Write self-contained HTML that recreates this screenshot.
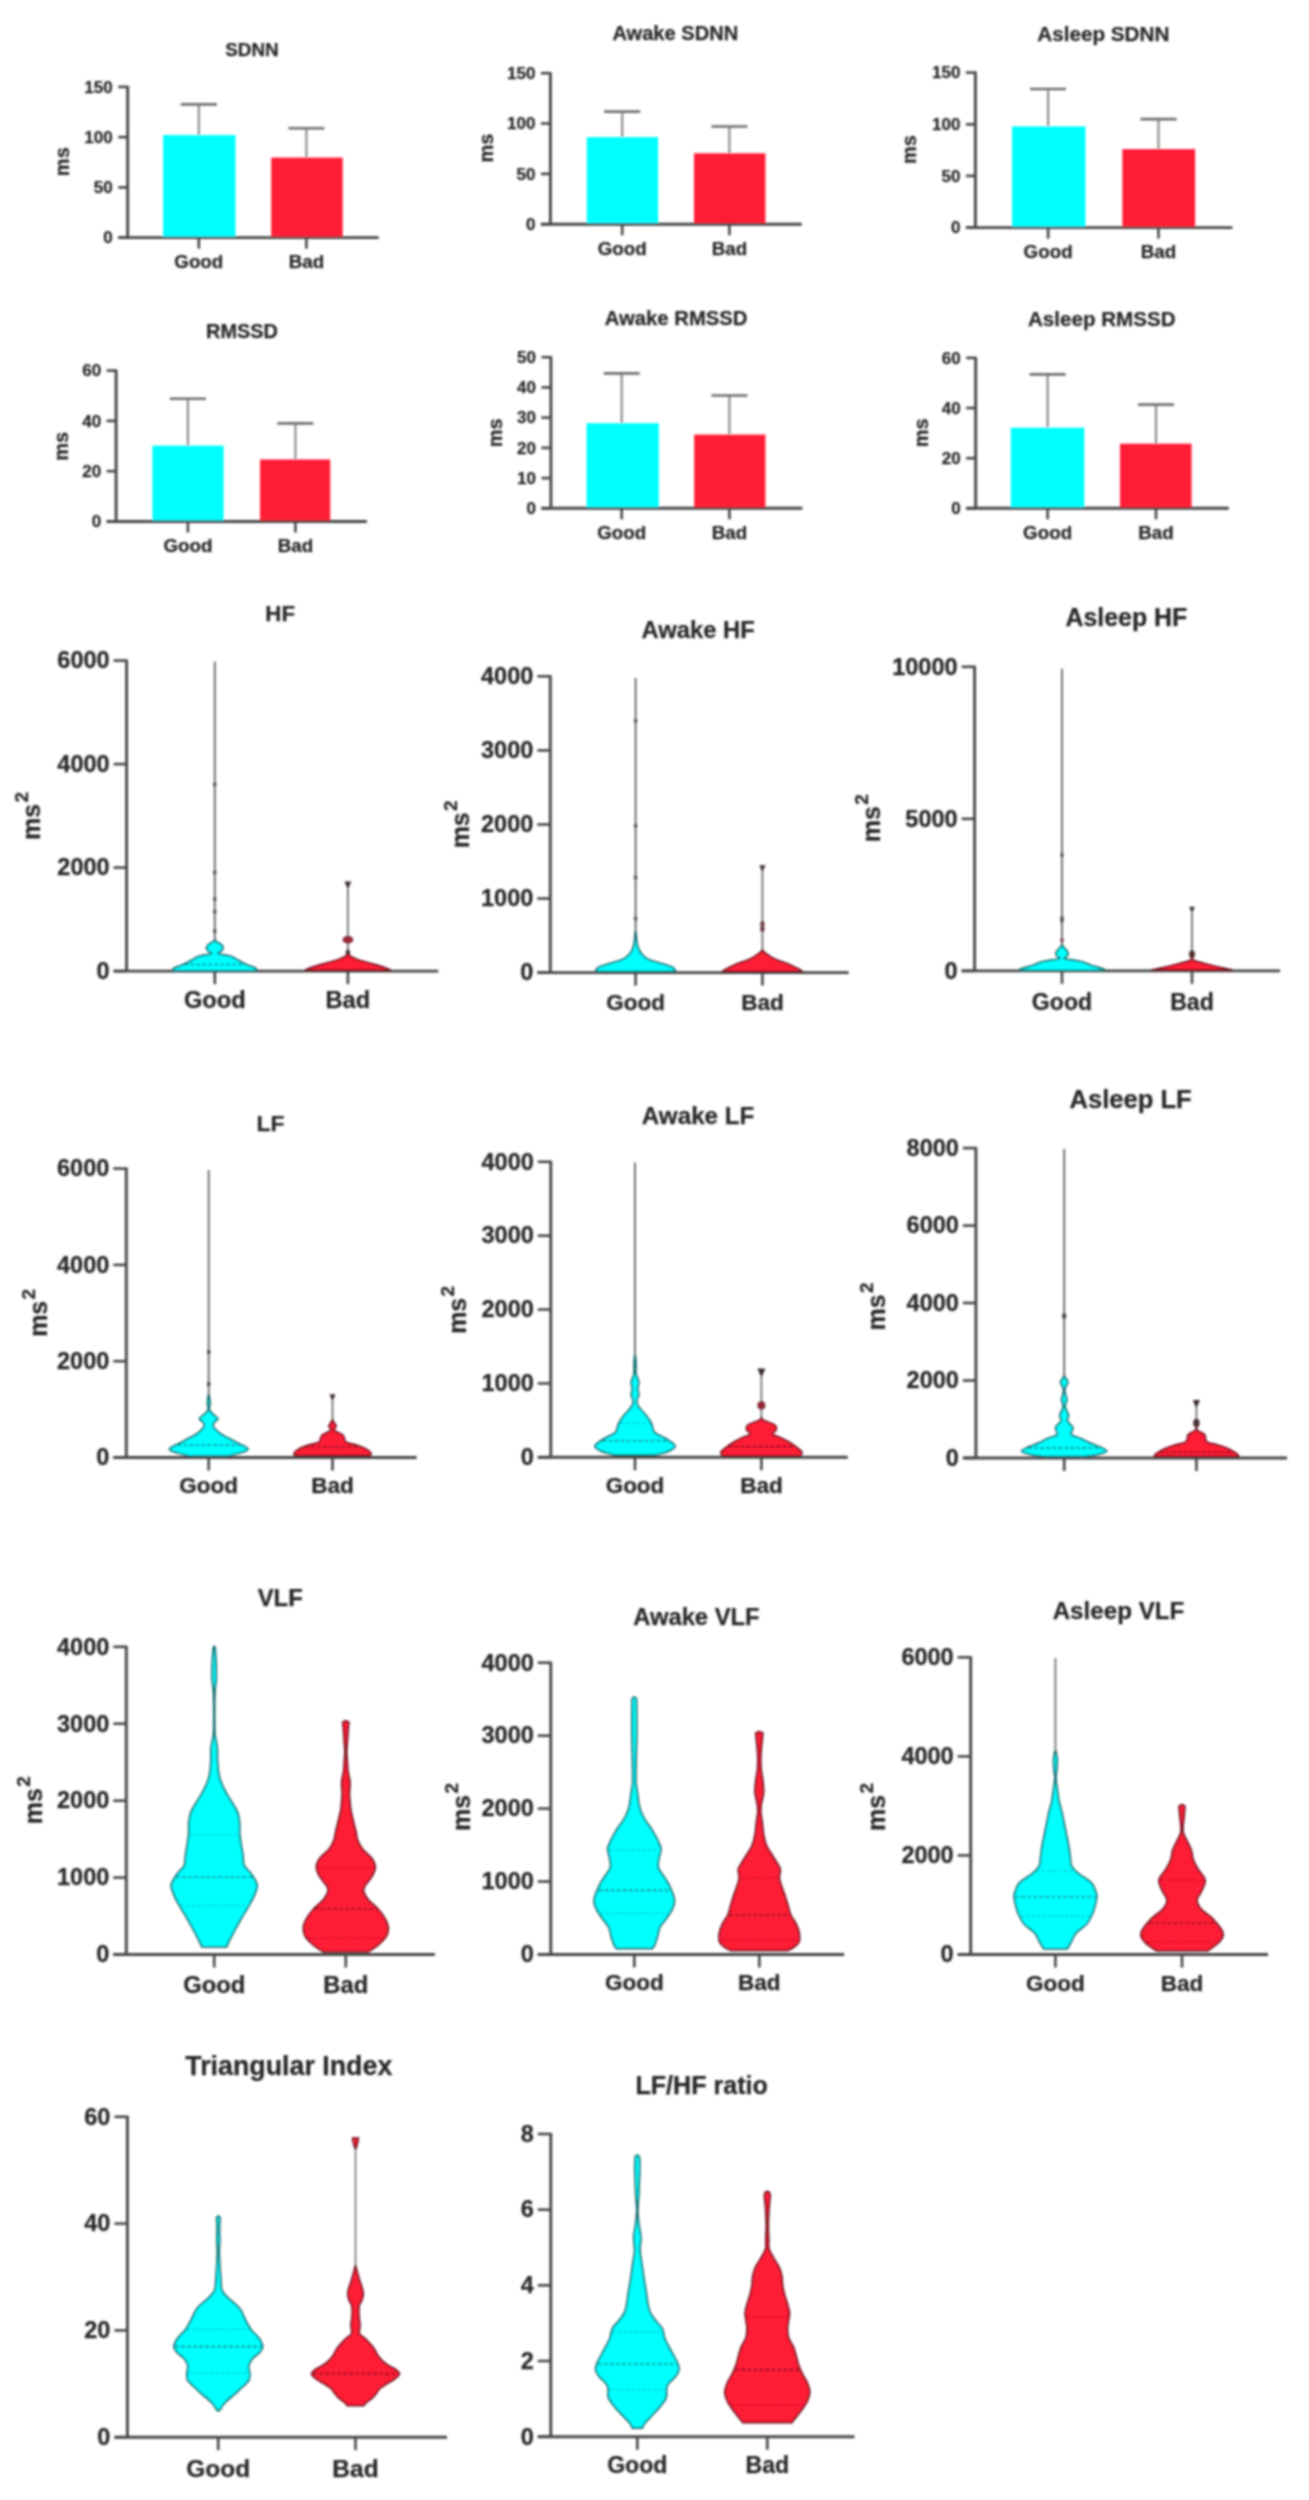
<!DOCTYPE html>
<html><head><meta charset="utf-8"><style>
html,body{margin:0;padding:0;background:#fff;}
body{width:1309px;height:2500px;overflow:hidden;}
svg{display:block;}
.t{font-family:"Liberation Sans",sans-serif;font-weight:bold;fill:#282828;stroke:#282828;stroke-width:0.25px;}
</style></head><body>
<svg width="1309" height="2500" viewBox="0 0 1309 2500">
<defs><filter id="bl" x="0" y="0" width="1309" height="2500" filterUnits="userSpaceOnUse"><feGaussianBlur stdDeviation="0.8"/></filter></defs>
<rect width="1309" height="2500" fill="#fff"/>
<g filter="url(#bl)">
<line x1="127.7" y1="85.9" x2="127.7" y2="237.6" stroke="#474747" stroke-width="2.9"/>
<line x1="118.2" y1="237.6" x2="378.8" y2="237.6" stroke="#474747" stroke-width="2.9"/>
<line x1="118.2" y1="237.6" x2="127.7" y2="237.6" stroke="#474747" stroke-width="2.61"/>
<text x="112.7" y="243.2" font-size="17" text-anchor="end" class="t">0</text>
<line x1="118.2" y1="187.4" x2="127.7" y2="187.4" stroke="#474747" stroke-width="2.61"/>
<text x="112.7" y="193" font-size="17" text-anchor="end" class="t">50</text>
<line x1="118.2" y1="137.1" x2="127.7" y2="137.1" stroke="#474747" stroke-width="2.61"/>
<text x="112.7" y="142.7" font-size="17" text-anchor="end" class="t">100</text>
<line x1="118.2" y1="86.9" x2="127.7" y2="86.9" stroke="#474747" stroke-width="2.61"/>
<text x="112.7" y="92.5" font-size="17" text-anchor="end" class="t">150</text>
<line x1="198.8" y1="237.6" x2="198.8" y2="248.6" stroke="#474747" stroke-width="2.61"/>
<line x1="306.4" y1="237.6" x2="306.4" y2="248.6" stroke="#474747" stroke-width="2.61"/>
<rect x="163.1" y="135.1" width="72.4" height="101.5" fill="#00ffff"/>
<rect x="271.2" y="157.6" width="71.5" height="79" fill="#ff1a36"/>
<line x1="198.8" y1="104.4" x2="198.8" y2="135.1" stroke="#8c8c8c" stroke-width="2.2"/>
<line x1="180.8" y1="104.4" x2="216.8" y2="104.4" stroke="#6e6e6e" stroke-width="2.6"/>
<line x1="306.4" y1="128.3" x2="306.4" y2="157.6" stroke="#8c8c8c" stroke-width="2.2"/>
<line x1="288.4" y1="128.3" x2="324.4" y2="128.3" stroke="#6e6e6e" stroke-width="2.6"/>
<text x="252" y="55.8" font-size="18.9" text-anchor="middle" class="t">SDNN</text>
<text transform="translate(63.3,161.7) rotate(-90)" x="0" y="5.2" font-size="20" text-anchor="middle" class="t">ms</text>
<text x="198.8" y="268" font-size="18.8" text-anchor="middle" class="t">Good</text>
<text x="306.4" y="268" font-size="18.8" text-anchor="middle" class="t">Bad</text>
<line x1="550.4" y1="72.2" x2="550.4" y2="224.2" stroke="#474747" stroke-width="2.9"/>
<line x1="540.9" y1="224.2" x2="801.8" y2="224.2" stroke="#474747" stroke-width="2.9"/>
<line x1="540.9" y1="224.2" x2="550.4" y2="224.2" stroke="#474747" stroke-width="2.61"/>
<text x="535.4" y="229.8" font-size="17" text-anchor="end" class="t">0</text>
<line x1="540.9" y1="173.9" x2="550.4" y2="173.9" stroke="#474747" stroke-width="2.61"/>
<text x="535.4" y="179.5" font-size="17" text-anchor="end" class="t">50</text>
<line x1="540.9" y1="123.5" x2="550.4" y2="123.5" stroke="#474747" stroke-width="2.61"/>
<text x="535.4" y="129.1" font-size="17" text-anchor="end" class="t">100</text>
<line x1="540.9" y1="73.2" x2="550.4" y2="73.2" stroke="#474747" stroke-width="2.61"/>
<text x="535.4" y="78.8" font-size="17" text-anchor="end" class="t">150</text>
<line x1="622.2" y1="224.2" x2="622.2" y2="235.2" stroke="#474747" stroke-width="2.61"/>
<line x1="729.4" y1="224.2" x2="729.4" y2="235.2" stroke="#474747" stroke-width="2.61"/>
<rect x="586.8" y="137.1" width="71.3" height="86.1" fill="#00ffff"/>
<rect x="694" y="153.3" width="71.4" height="69.9" fill="#ff1a36"/>
<line x1="622.2" y1="111.6" x2="622.2" y2="137.1" stroke="#8c8c8c" stroke-width="2.2"/>
<line x1="604.2" y1="111.6" x2="640.2" y2="111.6" stroke="#6e6e6e" stroke-width="2.6"/>
<line x1="729.4" y1="126.5" x2="729.4" y2="153.3" stroke="#8c8c8c" stroke-width="2.2"/>
<line x1="711.4" y1="126.5" x2="747.4" y2="126.5" stroke="#6e6e6e" stroke-width="2.6"/>
<text x="675.3" y="40" font-size="20.1" text-anchor="middle" class="t">Awake SDNN</text>
<text transform="translate(487.5,148) rotate(-90)" x="0" y="5.2" font-size="20" text-anchor="middle" class="t">ms</text>
<text x="622.2" y="254.5" font-size="18.8" text-anchor="middle" class="t">Good</text>
<text x="729.4" y="254.5" font-size="18.8" text-anchor="middle" class="t">Bad</text>
<line x1="975.4" y1="71.6" x2="975.4" y2="227.6" stroke="#474747" stroke-width="2.9"/>
<line x1="965.9" y1="227.6" x2="1232.4" y2="227.6" stroke="#474747" stroke-width="2.9"/>
<line x1="965.9" y1="227.6" x2="975.4" y2="227.6" stroke="#474747" stroke-width="2.61"/>
<text x="960.4" y="233.2" font-size="17" text-anchor="end" class="t">0</text>
<line x1="965.9" y1="175.9" x2="975.4" y2="175.9" stroke="#474747" stroke-width="2.61"/>
<text x="960.4" y="181.5" font-size="17" text-anchor="end" class="t">50</text>
<line x1="965.9" y1="124.3" x2="975.4" y2="124.3" stroke="#474747" stroke-width="2.61"/>
<text x="960.4" y="129.9" font-size="17" text-anchor="end" class="t">100</text>
<line x1="965.9" y1="72.6" x2="975.4" y2="72.6" stroke="#474747" stroke-width="2.61"/>
<text x="960.4" y="78.2" font-size="17" text-anchor="end" class="t">150</text>
<line x1="1048.1" y1="227.6" x2="1048.1" y2="238.6" stroke="#474747" stroke-width="2.61"/>
<line x1="1158.5" y1="227.6" x2="1158.5" y2="238.6" stroke="#474747" stroke-width="2.61"/>
<rect x="1012" y="126.4" width="73.4" height="100.2" fill="#00ffff"/>
<rect x="1122.4" y="149.1" width="72.7" height="77.5" fill="#ff1a36"/>
<line x1="1048.1" y1="89" x2="1048.1" y2="126.4" stroke="#8c8c8c" stroke-width="2.2"/>
<line x1="1030.1" y1="89" x2="1066.1" y2="89" stroke="#6e6e6e" stroke-width="2.6"/>
<line x1="1158.5" y1="119.1" x2="1158.5" y2="149.1" stroke="#8c8c8c" stroke-width="2.2"/>
<line x1="1140.5" y1="119.1" x2="1176.5" y2="119.1" stroke="#6e6e6e" stroke-width="2.6"/>
<text x="1103.3" y="40.5" font-size="20.7" text-anchor="middle" class="t">Asleep SDNN</text>
<text transform="translate(911,149.6) rotate(-90)" x="0" y="5.2" font-size="20" text-anchor="middle" class="t">ms</text>
<text x="1048.1" y="258.3" font-size="18.8" text-anchor="middle" class="t">Good</text>
<text x="1158.5" y="258.3" font-size="18.8" text-anchor="middle" class="t">Bad</text>
<line x1="116.1" y1="369.6" x2="116.1" y2="521.5" stroke="#474747" stroke-width="2.9"/>
<line x1="106.6" y1="521.5" x2="366.9" y2="521.5" stroke="#474747" stroke-width="2.9"/>
<line x1="106.6" y1="521.5" x2="116.1" y2="521.5" stroke="#474747" stroke-width="2.61"/>
<text x="101.1" y="527.1" font-size="17" text-anchor="end" class="t">0</text>
<line x1="106.6" y1="471.2" x2="116.1" y2="471.2" stroke="#474747" stroke-width="2.61"/>
<text x="101.1" y="476.8" font-size="17" text-anchor="end" class="t">20</text>
<line x1="106.6" y1="420.9" x2="116.1" y2="420.9" stroke="#474747" stroke-width="2.61"/>
<text x="101.1" y="426.5" font-size="17" text-anchor="end" class="t">40</text>
<line x1="106.6" y1="370.6" x2="116.1" y2="370.6" stroke="#474747" stroke-width="2.61"/>
<text x="101.1" y="376.2" font-size="17" text-anchor="end" class="t">60</text>
<line x1="187.9" y1="521.5" x2="187.9" y2="532.5" stroke="#474747" stroke-width="2.61"/>
<line x1="295.4" y1="521.5" x2="295.4" y2="532.5" stroke="#474747" stroke-width="2.61"/>
<rect x="152.4" y="445.6" width="71.2" height="74.9" fill="#00ffff"/>
<rect x="260" y="459.5" width="70.2" height="61" fill="#ff1a36"/>
<line x1="187.9" y1="398.8" x2="187.9" y2="445.6" stroke="#8c8c8c" stroke-width="2.2"/>
<line x1="169.9" y1="398.8" x2="205.9" y2="398.8" stroke="#6e6e6e" stroke-width="2.6"/>
<line x1="295.4" y1="423.4" x2="295.4" y2="459.5" stroke="#8c8c8c" stroke-width="2.2"/>
<line x1="277.4" y1="423.4" x2="313.4" y2="423.4" stroke="#6e6e6e" stroke-width="2.6"/>
<text x="242" y="338.2" font-size="19.9" text-anchor="middle" class="t">RMSSD</text>
<text transform="translate(63.2,446.3) rotate(-90)" x="0" y="5.2" font-size="20" text-anchor="middle" class="t">ms</text>
<text x="187.9" y="552.2" font-size="18.8" text-anchor="middle" class="t">Good</text>
<text x="295.4" y="552.2" font-size="18.8" text-anchor="middle" class="t">Bad</text>
<line x1="550.9" y1="356.2" x2="550.9" y2="508.3" stroke="#474747" stroke-width="2.9"/>
<line x1="541.4" y1="508.3" x2="802.4" y2="508.3" stroke="#474747" stroke-width="2.9"/>
<line x1="541.4" y1="508.3" x2="550.9" y2="508.3" stroke="#474747" stroke-width="2.61"/>
<text x="535.9" y="513.9" font-size="17" text-anchor="end" class="t">0</text>
<line x1="541.4" y1="478.1" x2="550.9" y2="478.1" stroke="#474747" stroke-width="2.61"/>
<text x="535.9" y="483.7" font-size="17" text-anchor="end" class="t">10</text>
<line x1="541.4" y1="447.9" x2="550.9" y2="447.9" stroke="#474747" stroke-width="2.61"/>
<text x="535.9" y="453.5" font-size="17" text-anchor="end" class="t">20</text>
<line x1="541.4" y1="417.6" x2="550.9" y2="417.6" stroke="#474747" stroke-width="2.61"/>
<text x="535.9" y="423.2" font-size="17" text-anchor="end" class="t">30</text>
<line x1="541.4" y1="387.4" x2="550.9" y2="387.4" stroke="#474747" stroke-width="2.61"/>
<text x="535.9" y="393" font-size="17" text-anchor="end" class="t">40</text>
<line x1="541.4" y1="357.2" x2="550.9" y2="357.2" stroke="#474747" stroke-width="2.61"/>
<text x="535.9" y="362.8" font-size="17" text-anchor="end" class="t">50</text>
<line x1="621.7" y1="508.3" x2="621.7" y2="519.3" stroke="#474747" stroke-width="2.61"/>
<line x1="729.4" y1="508.3" x2="729.4" y2="519.3" stroke="#474747" stroke-width="2.61"/>
<rect x="586.6" y="423.2" width="72.2" height="84.1" fill="#00ffff"/>
<rect x="694.2" y="434.6" width="71.2" height="72.7" fill="#ff1a36"/>
<line x1="621.7" y1="373.4" x2="621.7" y2="423.2" stroke="#8c8c8c" stroke-width="2.2"/>
<line x1="603.7" y1="373.4" x2="639.7" y2="373.4" stroke="#6e6e6e" stroke-width="2.6"/>
<line x1="729.4" y1="395.5" x2="729.4" y2="434.6" stroke="#8c8c8c" stroke-width="2.2"/>
<line x1="711.4" y1="395.5" x2="747.4" y2="395.5" stroke="#6e6e6e" stroke-width="2.6"/>
<text x="676.1" y="325" font-size="20.3" text-anchor="middle" class="t">Awake RMSSD</text>
<text transform="translate(497,432.9) rotate(-90)" x="0" y="5.2" font-size="20" text-anchor="middle" class="t">ms</text>
<text x="621.7" y="538.7" font-size="18.8" text-anchor="middle" class="t">Good</text>
<text x="729.4" y="538.7" font-size="18.8" text-anchor="middle" class="t">Bad</text>
<line x1="975.7" y1="356.9" x2="975.7" y2="508.3" stroke="#474747" stroke-width="2.9"/>
<line x1="966.2" y1="508.3" x2="1228.8" y2="508.3" stroke="#474747" stroke-width="2.9"/>
<line x1="966.2" y1="508.3" x2="975.7" y2="508.3" stroke="#474747" stroke-width="2.61"/>
<text x="960.7" y="513.9" font-size="17" text-anchor="end" class="t">0</text>
<line x1="966.2" y1="458.2" x2="975.7" y2="458.2" stroke="#474747" stroke-width="2.61"/>
<text x="960.7" y="463.8" font-size="17" text-anchor="end" class="t">20</text>
<line x1="966.2" y1="408" x2="975.7" y2="408" stroke="#474747" stroke-width="2.61"/>
<text x="960.7" y="413.6" font-size="17" text-anchor="end" class="t">40</text>
<line x1="966.2" y1="357.9" x2="975.7" y2="357.9" stroke="#474747" stroke-width="2.61"/>
<text x="960.7" y="363.5" font-size="17" text-anchor="end" class="t">60</text>
<line x1="1047.6" y1="508.3" x2="1047.6" y2="519.3" stroke="#474747" stroke-width="2.61"/>
<line x1="1156" y1="508.3" x2="1156" y2="519.3" stroke="#474747" stroke-width="2.61"/>
<rect x="1010.8" y="427.7" width="73.5" height="79.6" fill="#00ffff"/>
<rect x="1120" y="443.7" width="71.5" height="63.6" fill="#ff1a36"/>
<line x1="1047.6" y1="374.4" x2="1047.6" y2="427.7" stroke="#8c8c8c" stroke-width="2.2"/>
<line x1="1029.6" y1="374.4" x2="1065.6" y2="374.4" stroke="#6e6e6e" stroke-width="2.6"/>
<line x1="1156" y1="404.6" x2="1156" y2="443.7" stroke="#8c8c8c" stroke-width="2.2"/>
<line x1="1138" y1="404.6" x2="1174" y2="404.6" stroke="#6e6e6e" stroke-width="2.6"/>
<text x="1101.8" y="326" font-size="20.6" text-anchor="middle" class="t">Asleep RMSSD</text>
<text transform="translate(922.8,432.9) rotate(-90)" x="0" y="5.2" font-size="20" text-anchor="middle" class="t">ms</text>
<text x="1047.6" y="538.8" font-size="18.8" text-anchor="middle" class="t">Good</text>
<text x="1156" y="538.8" font-size="18.8" text-anchor="middle" class="t">Bad</text>
<line x1="126.6" y1="659.6" x2="126.6" y2="971.1" stroke="#474747" stroke-width="2.9"/>
<line x1="113.6" y1="971.1" x2="438.3" y2="971.1" stroke="#474747" stroke-width="2.9"/>
<line x1="113.6" y1="971.1" x2="126.6" y2="971.1" stroke="#474747" stroke-width="2.61"/>
<text x="109.6" y="978.9" font-size="23.5" text-anchor="end" class="t">0</text>
<line x1="113.6" y1="867.6" x2="126.6" y2="867.6" stroke="#474747" stroke-width="2.61"/>
<text x="109.6" y="875.4" font-size="23.5" text-anchor="end" class="t">2000</text>
<line x1="113.6" y1="764.1" x2="126.6" y2="764.1" stroke="#474747" stroke-width="2.61"/>
<text x="109.6" y="771.9" font-size="23.5" text-anchor="end" class="t">4000</text>
<line x1="113.6" y1="660.6" x2="126.6" y2="660.6" stroke="#474747" stroke-width="2.61"/>
<text x="109.6" y="668.4" font-size="23.5" text-anchor="end" class="t">6000</text>
<line x1="214.8" y1="971.1" x2="214.8" y2="984.1" stroke="#474747" stroke-width="2.61"/>
<line x1="347.9" y1="971.1" x2="347.9" y2="984.1" stroke="#474747" stroke-width="2.61"/>
<text x="280.2" y="620.6" font-size="22.3" text-anchor="middle" class="t">HF</text>
<text transform="translate(33.5,821.9) rotate(-90)" x="0" y="6.5" font-size="25" text-anchor="middle" class="t">ms</text>
<text transform="translate(33.5,821.9) rotate(-90)" x="19.4" y="-5.5" font-size="19" text-anchor="start" class="t">2</text>
<text x="214.8" y="1008.4" font-size="23.7" text-anchor="middle" class="t">Good</text>
<text x="347.9" y="1008.4" font-size="23.7" text-anchor="middle" class="t">Bad</text>
<line x1="214.8" y1="661.5" x2="214.8" y2="945" stroke="#606060" stroke-width="1.8"/>
<ellipse cx="214.8" cy="784.5" rx="1.7" ry="2.2" fill="#4a4a4a"/>
<ellipse cx="214.8" cy="872.5" rx="1.7" ry="2.2" fill="#4a4a4a"/>
<ellipse cx="214.8" cy="899" rx="1.7" ry="2.2" fill="#4a4a4a"/>
<ellipse cx="214.8" cy="911.8" rx="1.7" ry="2.2" fill="#4a4a4a"/>
<ellipse cx="214.8" cy="931" rx="1.7" ry="2.2" fill="#4a4a4a"/>
<path d="M214.8,939.5 L215.2,941 C215.7,941.2 216.7,941.7 217.8,942.4 C218.9,943.1 220.9,944 221.8,945 C222.7,946 223.2,947.4 223,948.5 C222.8,949.6 221.6,950.6 220.8,951.5 C220,952.4 216.7,953 218.3,953.8 C219.9,954.5 227.3,955.1 230.2,956 C233.1,956.9 233.9,958 235.8,959 C237.7,960 239.5,961.1 241.7,962.2 C243.9,963.3 246.5,964.5 248.8,965.5 C251.2,966.5 254.5,967.4 255.8,968.3 C257.1,969.2 256.6,970.4 256.8,970.8 L172.8,970.8 C173,970.4 172.5,969.2 173.8,968.3 C175.1,967.4 178.5,966.5 180.8,965.5 C183.2,964.5 185.7,963.3 187.9,962.2 C190.1,961.1 191.9,960 193.8,959 C195.7,958 196.5,956.9 199.4,956 C202.3,955.1 209.7,954.5 211.3,953.8 C212.9,953 209.6,952.4 208.8,951.5 C208,950.6 206.8,949.6 206.6,948.5 C206.4,947.4 206.9,946 207.8,945 C208.7,944 210.7,943.1 211.8,942.4 C212.9,941.7 213.9,941.2 214.4,941 Z" fill="#00ffff" stroke="#156a6c" stroke-width="1.7" stroke-linejoin="round"/>
<line x1="184.5" y1="964.5" x2="245.1" y2="964.5" stroke="#156a6c" stroke-width="1.6" stroke-dasharray="3.5 2.5" opacity="0.9"/>
<line x1="347.9" y1="884" x2="347.9" y2="957" stroke="#707070" stroke-width="1.8"/>
<path d="M344.5,881.4 L351.3,881.4 L348.7,887.5 L347.1,887.5 Z" fill="#3a2a2e"/>
<ellipse cx="347.9" cy="939.7" rx="4.8" ry="3.2" fill="#a02838" stroke="#5a2028" stroke-width="1"/>
<ellipse cx="347.9" cy="952.4" rx="2.2" ry="2.9" fill="#4a3035"/>
<path d="M347.9,953.5 L348.3,955 C349.1,955.4 350.7,956.4 352.8,957.4 C354.9,958.4 357.8,959.7 361.2,960.8 C364.6,961.9 369.5,963 373.4,964.1 C377.3,965.2 381.8,966.5 384.7,967.5 C387.6,968.5 389.9,969.9 391,970.4 L304.8,970.4 C305.8,969.9 308.2,968.5 311.1,967.5 C314,966.5 318.5,965.2 322.4,964.1 C326.3,963 331.2,961.9 334.6,960.8 C338,959.7 340.9,958.4 343,957.4 C345.1,956.4 346.7,955.4 347.4,955 Z" fill="#ff1a36" stroke="#6e1420" stroke-width="1.7" stroke-linejoin="round"/>
<line x1="550.3" y1="675.3" x2="550.3" y2="972.6" stroke="#474747" stroke-width="2.9"/>
<line x1="537.3" y1="972.6" x2="848.7" y2="972.6" stroke="#474747" stroke-width="2.9"/>
<line x1="537.3" y1="972.6" x2="550.3" y2="972.6" stroke="#474747" stroke-width="2.61"/>
<text x="533.3" y="980.4" font-size="23.5" text-anchor="end" class="t">0</text>
<line x1="537.3" y1="898.5" x2="550.3" y2="898.5" stroke="#474747" stroke-width="2.61"/>
<text x="533.3" y="906.3" font-size="23.5" text-anchor="end" class="t">1000</text>
<line x1="537.3" y1="824.5" x2="550.3" y2="824.5" stroke="#474747" stroke-width="2.61"/>
<text x="533.3" y="832.2" font-size="23.5" text-anchor="end" class="t">2000</text>
<line x1="537.3" y1="750.4" x2="550.3" y2="750.4" stroke="#474747" stroke-width="2.61"/>
<text x="533.3" y="758.1" font-size="23.5" text-anchor="end" class="t">3000</text>
<line x1="537.3" y1="676.3" x2="550.3" y2="676.3" stroke="#474747" stroke-width="2.61"/>
<text x="533.3" y="684.1" font-size="23.5" text-anchor="end" class="t">4000</text>
<line x1="635.6" y1="972.6" x2="635.6" y2="985.6" stroke="#474747" stroke-width="2.61"/>
<line x1="762.4" y1="972.6" x2="762.4" y2="985.6" stroke="#474747" stroke-width="2.61"/>
<text x="698.1" y="638.4" font-size="23.8" text-anchor="middle" class="t">Awake HF</text>
<text transform="translate(462.2,830.3) rotate(-90)" x="0" y="6.5" font-size="25" text-anchor="middle" class="t">ms</text>
<text transform="translate(462.2,830.3) rotate(-90)" x="19.4" y="-5.5" font-size="19" text-anchor="start" class="t">2</text>
<text x="635.6" y="1010.4" font-size="22.5" text-anchor="middle" class="t">Good</text>
<text x="762.4" y="1010.4" font-size="22.5" text-anchor="middle" class="t">Bad</text>
<line x1="635.6" y1="678" x2="635.6" y2="935" stroke="#606060" stroke-width="1.8"/>
<ellipse cx="635.6" cy="721" rx="1.7" ry="2.2" fill="#4a4a4a"/>
<ellipse cx="635.6" cy="825.8" rx="1.7" ry="2.2" fill="#4a4a4a"/>
<ellipse cx="635.6" cy="877.4" rx="1.7" ry="2.2" fill="#4a4a4a"/>
<ellipse cx="635.6" cy="918.6" rx="1.7" ry="2.2" fill="#4a4a4a"/>
<path d="M635.6,931.5 L636.1,933 C636.1,934.2 636.3,937.8 636.6,940 C636.9,942.2 637.1,944.2 637.6,946 C638.1,947.8 638.8,949.5 639.6,951 C640.4,952.5 641.3,953.7 642.6,955 C643.9,956.3 645.3,957.8 647.6,959 C649.9,960.2 653.4,961 656.6,962 C659.8,963 663.8,964 666.6,965 C669.4,966 672.1,966.9 673.6,968 C675.1,969.1 675.3,970.9 675.6,971.5 L595.6,971.5 C595.9,970.9 596.1,969.1 597.6,968 C599.1,966.9 601.8,966 604.6,965 C607.4,964 611.4,963 614.6,962 C617.8,961 621.3,960.2 623.6,959 C625.9,957.8 627.3,956.3 628.6,955 C629.9,953.7 630.8,952.5 631.6,951 C632.4,949.5 633.1,947.8 633.6,946 C634.1,944.2 634.3,942.2 634.6,940 C634.9,937.8 635.1,934.2 635.1,933 Z" fill="#00ffff" stroke="#156a6c" stroke-width="1.7" stroke-linejoin="round"/>
<line x1="762.4" y1="867" x2="762.4" y2="952" stroke="#707070" stroke-width="1.8"/>
<path d="M759.4,865.2 L765.4,865.2 L763.2,870.6 L761.6,870.6 Z" fill="#3a2a2e"/>
<ellipse cx="762.4" cy="924" rx="2.2" ry="2.9" fill="#6a3a40"/>
<ellipse cx="762.4" cy="929" rx="2.2" ry="2.9" fill="#6a3a40"/>
<path d="M762.4,949.5 L762.9,951 C763.3,951.3 763.5,951.7 765.4,953 C767.3,954.3 770.3,956.8 774.2,958.7 C778.1,960.6 784.6,962.4 788.9,964.2 C793.2,966 797.6,968.5 799.9,969.7 C802.1,970.9 802,971.2 802.4,971.5 L722.4,971.5 C722.8,971.2 722.6,970.9 724.9,969.7 C727.1,968.5 731.6,966 735.9,964.2 C740.2,962.4 746.7,960.6 750.6,958.7 C754.5,956.8 757.5,954.3 759.4,953 C761.3,951.7 761.5,951.3 761.9,951 Z" fill="#ff1a36" stroke="#6e1420" stroke-width="1.7" stroke-linejoin="round"/>
<line x1="974.6" y1="665.8" x2="974.6" y2="970.9" stroke="#474747" stroke-width="2.9"/>
<line x1="961.6" y1="970.9" x2="1280.1" y2="970.9" stroke="#474747" stroke-width="2.9"/>
<line x1="961.6" y1="970.9" x2="974.6" y2="970.9" stroke="#474747" stroke-width="2.61"/>
<text x="957.6" y="978.7" font-size="23.5" text-anchor="end" class="t">0</text>
<line x1="961.6" y1="818.8" x2="974.6" y2="818.8" stroke="#474747" stroke-width="2.61"/>
<text x="957.6" y="826.6" font-size="23.5" text-anchor="end" class="t">5000</text>
<line x1="961.6" y1="666.8" x2="974.6" y2="666.8" stroke="#474747" stroke-width="2.61"/>
<text x="957.6" y="674.6" font-size="23.5" text-anchor="end" class="t">10000</text>
<line x1="1062" y1="970.9" x2="1062" y2="983.9" stroke="#474747" stroke-width="2.61"/>
<line x1="1192" y1="970.9" x2="1192" y2="983.9" stroke="#474747" stroke-width="2.61"/>
<text x="1126.4" y="626.4" font-size="24.9" text-anchor="middle" class="t">Asleep HF</text>
<text transform="translate(873,824.1) rotate(-90)" x="0" y="6.5" font-size="25" text-anchor="middle" class="t">ms</text>
<text transform="translate(873,824.1) rotate(-90)" x="19.4" y="-5.5" font-size="19" text-anchor="start" class="t">2</text>
<text x="1062" y="1009.5" font-size="23.1" text-anchor="middle" class="t">Good</text>
<text x="1192" y="1009.5" font-size="23.1" text-anchor="middle" class="t">Bad</text>
<line x1="1062" y1="668.7" x2="1062" y2="948" stroke="#606060" stroke-width="1.8"/>
<ellipse cx="1062" cy="855" rx="1.7" ry="2.2" fill="#4a4a4a"/>
<ellipse cx="1062" cy="919.3" rx="1.8" ry="3.6" fill="#4a4a4a"/>
<ellipse cx="1062" cy="940.4" rx="1.8" ry="2.3" fill="#7a4a50"/>
<path d="M1062,944.5 L1062.5,946 C1062.9,946.5 1064,947.5 1065,948.7 C1066,949.9 1068.1,951.9 1068.3,953.3 C1068.5,954.7 1066.5,956.1 1066,957 C1065.5,957.9 1062.5,958 1065,958.8 C1067.5,959.5 1076.7,960.4 1081,961.5 C1085.3,962.6 1087.3,964 1091,965.2 C1094.7,966.4 1100.8,967.9 1103,968.8 C1105.2,969.7 1103.8,970.2 1104,970.5 L1020,970.5 C1020.2,970.2 1018.8,969.7 1021,968.8 C1023.2,967.9 1029.3,966.4 1033,965.2 C1036.7,964 1038.7,962.6 1043,961.5 C1047.3,960.4 1056.5,959.5 1059,958.8 C1061.5,958 1058.5,957.9 1058,957 C1057.5,956.1 1055.5,954.7 1055.7,953.3 C1055.9,951.9 1058,949.9 1059,948.7 C1060,947.5 1061.1,946.5 1061.5,946 Z" fill="#00ffff" stroke="#156a6c" stroke-width="1.7" stroke-linejoin="round"/>
<line x1="1192" y1="908.3" x2="1192" y2="961" stroke="#707070" stroke-width="1.8"/>
<path d="M1189.3,906.7 L1194.7,906.7 L1192.8,911.5 L1191.2,911.5 Z" fill="#3a2a2e"/>
<ellipse cx="1192" cy="954.2" rx="3" ry="3.9" fill="#4a3035"/>
<path d="M1192,957.5 L1192.5,959 C1192.7,959.3 1192.1,959.9 1194,960.6 C1195.9,961.3 1199.7,962.2 1203.8,963.3 C1207.9,964.4 1213.8,965.9 1218.5,967 C1223.2,968.1 1230,969.6 1232.3,970.1 L1151.7,970.1 C1154,969.6 1160.8,968.1 1165.5,967 C1170.2,965.9 1176.1,964.4 1180.2,963.3 C1184.3,962.2 1188.1,961.3 1190,960.6 C1191.9,959.9 1191.3,959.3 1191.5,959 Z" fill="#ff1a36" stroke="#6e1420" stroke-width="1.7" stroke-linejoin="round"/>
<line x1="126.3" y1="1167.6" x2="126.3" y2="1457.5" stroke="#474747" stroke-width="2.9"/>
<line x1="113.3" y1="1457.5" x2="416.6" y2="1457.5" stroke="#474747" stroke-width="2.9"/>
<line x1="113.3" y1="1457.5" x2="126.3" y2="1457.5" stroke="#474747" stroke-width="2.61"/>
<text x="109.3" y="1465.3" font-size="23.5" text-anchor="end" class="t">0</text>
<line x1="113.3" y1="1361.2" x2="126.3" y2="1361.2" stroke="#474747" stroke-width="2.61"/>
<text x="109.3" y="1369" font-size="23.5" text-anchor="end" class="t">2000</text>
<line x1="113.3" y1="1264.9" x2="126.3" y2="1264.9" stroke="#474747" stroke-width="2.61"/>
<text x="109.3" y="1272.7" font-size="23.5" text-anchor="end" class="t">4000</text>
<line x1="113.3" y1="1168.6" x2="126.3" y2="1168.6" stroke="#474747" stroke-width="2.61"/>
<text x="109.3" y="1176.4" font-size="23.5" text-anchor="end" class="t">6000</text>
<line x1="208.7" y1="1457.5" x2="208.7" y2="1470.5" stroke="#474747" stroke-width="2.61"/>
<line x1="332.5" y1="1457.5" x2="332.5" y2="1470.5" stroke="#474747" stroke-width="2.61"/>
<text x="270.5" y="1130.9" font-size="22.9" text-anchor="middle" class="t">LF</text>
<text transform="translate(40.2,1318.8) rotate(-90)" x="0" y="6.5" font-size="25" text-anchor="middle" class="t">ms</text>
<text transform="translate(40.2,1318.8) rotate(-90)" x="19.4" y="-5.5" font-size="19" text-anchor="start" class="t">2</text>
<text x="208.7" y="1492.5" font-size="22.5" text-anchor="middle" class="t">Good</text>
<text x="332.5" y="1492.5" font-size="22.5" text-anchor="middle" class="t">Bad</text>
<line x1="208.7" y1="1170" x2="208.7" y2="1400" stroke="#606060" stroke-width="1.8"/>
<ellipse cx="208.7" cy="1352" rx="1.8" ry="2.3" fill="#4a4a4a"/>
<ellipse cx="208.7" cy="1384.1" rx="1.8" ry="2.3" fill="#4a4a4a"/>
<path d="M208.7,1394.5 L209.1,1396 C209.3,1396.9 209.9,1399.8 210,1401.5 C210.1,1403.2 209.8,1404.6 209.7,1406 C209.6,1407.4 208.6,1408.3 209.2,1409.7 C209.8,1411.1 211.7,1412.8 213.2,1414.3 C214.7,1415.8 217.7,1417.3 218,1418.5 C218.3,1419.7 215.8,1420.6 215,1421.7 C214.2,1422.8 212.7,1423.8 213,1425.3 C213.3,1426.8 215.2,1429.1 216.9,1430.8 C218.6,1432.5 220.8,1433.9 223.3,1435.4 C225.8,1436.9 229.1,1438.5 232,1440 C234.9,1441.5 238,1443.1 240.7,1444.6 C243.4,1446.1 248,1447.8 248,1449.2 C248,1450.6 244,1451.7 240.7,1452.8 C237.4,1453.9 230.4,1455.5 228.3,1456 L189.1,1456 C187,1455.5 180,1453.9 176.7,1452.8 C173.4,1451.7 169.4,1450.6 169.4,1449.2 C169.4,1447.8 174,1446.1 176.7,1444.6 C179.4,1443.1 182.5,1441.5 185.4,1440 C188.3,1438.5 191.6,1436.9 194.1,1435.4 C196.6,1433.9 198.8,1432.5 200.5,1430.8 C202.2,1429.1 204.1,1426.8 204.4,1425.3 C204.7,1423.8 203.2,1422.8 202.4,1421.7 C201.6,1420.6 199.1,1419.7 199.4,1418.5 C199.7,1417.3 202.7,1415.8 204.2,1414.3 C205.7,1412.8 207.6,1411.1 208.2,1409.7 C208.8,1408.3 207.8,1407.4 207.7,1406 C207.6,1404.6 207.3,1403.2 207.4,1401.5 C207.5,1399.8 208.1,1396.9 208.2,1396 Z" fill="#00ffff" stroke="#156a6c" stroke-width="1.7" stroke-linejoin="round"/>
<line x1="177.6" y1="1445" x2="239.8" y2="1445" stroke="#156a6c" stroke-width="1.6" stroke-dasharray="3.5 2.5" opacity="0.9"/>
<line x1="332.5" y1="1396" x2="332.5" y2="1423" stroke="#707070" stroke-width="1.8"/>
<path d="M329.6,1394.3 L335.4,1394.3 L333.3,1399.5 L331.7,1399.5 Z" fill="#3a2a2e"/>
<path d="M332.5,1419.5 L332.9,1421 C333.1,1421.2 333.1,1421.1 333.6,1422 C334.1,1422.9 336,1424.8 336.1,1426.2 C336.2,1427.6 333.3,1429 334.4,1430.4 C335.4,1431.8 340.7,1433.2 342.4,1434.6 C344.1,1436 343.9,1437.5 344.5,1438.8 C345.1,1440.1 343.9,1441.1 346.2,1442.2 C348.4,1443.3 354.5,1444.2 358,1445.5 C361.5,1446.8 365,1448.4 367.2,1449.7 C369.4,1451 370.5,1452.1 371,1453.1 C371.5,1454.1 370.3,1455.2 370.2,1455.6 L294.8,1455.6 C294.7,1455.2 293.5,1454.1 294,1453.1 C294.5,1452.1 295.6,1451 297.8,1449.7 C300,1448.4 303.5,1446.8 307,1445.5 C310.5,1444.2 316.6,1443.3 318.8,1442.2 C321.1,1441.1 319.9,1440.1 320.5,1438.8 C321.1,1437.5 320.9,1436 322.6,1434.6 C324.3,1433.2 329.6,1431.8 330.6,1430.4 C331.7,1429 328.8,1427.6 328.9,1426.2 C329,1424.8 330.9,1422.9 331.4,1422 C331.9,1421.1 331.9,1421.2 332.1,1421 Z" fill="#ff1a36" stroke="#6e1420" stroke-width="1.7" stroke-linejoin="round"/>
<line x1="305.2" y1="1447" x2="359.8" y2="1447" stroke="#6e1420" stroke-width="1.6" stroke-dasharray="3.5 2.5" opacity="0.9"/>
<line x1="550.8" y1="1160.8" x2="550.8" y2="1457.3" stroke="#474747" stroke-width="2.9"/>
<line x1="537.8" y1="1457.3" x2="847.7" y2="1457.3" stroke="#474747" stroke-width="2.9"/>
<line x1="537.8" y1="1457.3" x2="550.8" y2="1457.3" stroke="#474747" stroke-width="2.61"/>
<text x="533.8" y="1465.1" font-size="23.5" text-anchor="end" class="t">0</text>
<line x1="537.8" y1="1383.4" x2="550.8" y2="1383.4" stroke="#474747" stroke-width="2.61"/>
<text x="533.8" y="1391.2" font-size="23.5" text-anchor="end" class="t">1000</text>
<line x1="537.8" y1="1309.5" x2="550.8" y2="1309.5" stroke="#474747" stroke-width="2.61"/>
<text x="533.8" y="1317.3" font-size="23.5" text-anchor="end" class="t">2000</text>
<line x1="537.8" y1="1235.7" x2="550.8" y2="1235.7" stroke="#474747" stroke-width="2.61"/>
<text x="533.8" y="1243.4" font-size="23.5" text-anchor="end" class="t">3000</text>
<line x1="537.8" y1="1161.8" x2="550.8" y2="1161.8" stroke="#474747" stroke-width="2.61"/>
<text x="533.8" y="1169.6" font-size="23.5" text-anchor="end" class="t">4000</text>
<line x1="635" y1="1457.3" x2="635" y2="1470.3" stroke="#474747" stroke-width="2.61"/>
<line x1="761.4" y1="1457.3" x2="761.4" y2="1470.3" stroke="#474747" stroke-width="2.61"/>
<text x="698.1" y="1124" font-size="24.2" text-anchor="middle" class="t">Awake LF</text>
<text transform="translate(459.8,1315.8) rotate(-90)" x="0" y="6.5" font-size="25" text-anchor="middle" class="t">ms</text>
<text transform="translate(459.8,1315.8) rotate(-90)" x="19.4" y="-5.5" font-size="19" text-anchor="start" class="t">2</text>
<text x="635" y="1492.5" font-size="22.5" text-anchor="middle" class="t">Good</text>
<text x="761.4" y="1492.5" font-size="22.5" text-anchor="middle" class="t">Bad</text>
<line x1="635" y1="1162.5" x2="635" y2="1360" stroke="#606060" stroke-width="1.8"/>
<path d="M635,1355.3 L635.5,1356.8 C635.6,1358.2 635.9,1362.2 636,1365 C636.1,1367.8 635.5,1370.8 636,1373.6 C636.5,1376.4 638.5,1379.5 638.8,1382 C639.1,1384.5 637.6,1386.6 637.6,1388.7 C637.6,1390.8 638.9,1392.5 638.8,1394.6 C638.6,1396.7 636.7,1399.2 636.7,1401.3 C636.7,1403.4 637.4,1404.8 639,1407.2 C640.6,1409.6 644.1,1412.8 646.2,1415.6 C648.3,1418.4 650.2,1421.2 651.6,1424 C653,1426.8 652.1,1429.9 654.6,1432.4 C657.1,1434.9 663.4,1437 666.8,1439.2 C670.2,1441.5 674.8,1444 675.2,1445.9 C675.6,1447.9 672.5,1449.4 669.3,1450.9 C666.1,1452.4 658,1454.4 655.8,1455.1 L614.2,1455.1 C612,1454.4 603.9,1452.4 600.7,1450.9 C597.5,1449.4 594.4,1447.9 594.8,1445.9 C595.2,1444 599.8,1441.5 603.2,1439.2 C606.6,1437 612.9,1434.9 615.4,1432.4 C617.9,1429.9 617,1426.8 618.4,1424 C619.8,1421.2 621.7,1418.4 623.8,1415.6 C625.9,1412.8 629.4,1409.6 631,1407.2 C632.6,1404.8 633.3,1403.4 633.3,1401.3 C633.3,1399.2 631.4,1396.7 631.2,1394.6 C631.1,1392.5 632.4,1390.8 632.4,1388.7 C632.4,1386.6 630.9,1384.5 631.2,1382 C631.5,1379.5 633.5,1376.4 634,1373.6 C634.5,1370.8 633.9,1367.8 634,1365 C634.1,1362.2 634.4,1358.2 634.5,1356.8 Z" fill="#00ffff" stroke="#156a6c" stroke-width="1.7" stroke-linejoin="round"/>
<line x1="620.4" y1="1423.2" x2="649.6" y2="1423.2" stroke="#156a6c" stroke-width="1.1" stroke-dasharray="3 2.5" opacity="0.45"/>
<line x1="602.7" y1="1440.8" x2="667.3" y2="1440.8" stroke="#156a6c" stroke-width="1.6" stroke-dasharray="3.5 2.5" opacity="0.9"/>
<line x1="761.4" y1="1371" x2="761.4" y2="1421" stroke="#707070" stroke-width="1.8"/>
<path d="M757.4,1368.5 L765.4,1368.5 L762.2,1375.7 L760.6,1375.7 Z" fill="#3a2a2e"/>
<ellipse cx="761.4" cy="1405.4" rx="3.6" ry="3.8" fill="#a02838" stroke="#5a2028" stroke-width="1"/>
<path d="M761.4,1417.5 L761.9,1419 C762.2,1419.2 762.8,1419.8 764.2,1420.5 C765.6,1421.2 768.5,1422.2 770.4,1423 C772.3,1423.8 774.5,1424.4 775.5,1425.5 C776.5,1426.6 776.9,1428.3 776.4,1429.7 C775.9,1431.1 772.1,1432.6 772.6,1433.9 C773.1,1435.2 776.8,1435.9 779.7,1437.3 C782.6,1438.7 786.8,1440.6 789.8,1442.4 C792.8,1444.2 795.8,1446.5 797.8,1448.2 C799.8,1449.9 801.6,1451.1 802,1452.4 C802.4,1453.7 800.7,1455.2 800.4,1455.8 L722.4,1455.8 C722.1,1455.2 720.4,1453.7 720.8,1452.4 C721.2,1451.1 723,1449.9 725,1448.2 C727,1446.5 730,1444.2 733,1442.4 C736,1440.6 740.2,1438.7 743.1,1437.3 C746,1435.9 749.6,1435.2 750.2,1433.9 C750.7,1432.6 746.9,1431.1 746.4,1429.7 C745.9,1428.3 746.3,1426.6 747.3,1425.5 C748.3,1424.4 750.5,1423.8 752.4,1423 C754.3,1422.2 757.2,1421.2 758.6,1420.5 C760,1419.8 760.6,1419.2 760.9,1419 Z" fill="#ff1a36" stroke="#6e1420" stroke-width="1.7" stroke-linejoin="round"/>
<line x1="728.7" y1="1446.6" x2="794.1" y2="1446.6" stroke="#6e1420" stroke-width="1.6" stroke-dasharray="3.5 2.5" opacity="0.9"/>
<line x1="975.9" y1="1147.1" x2="975.9" y2="1458" stroke="#474747" stroke-width="2.9"/>
<line x1="962.9" y1="1458" x2="1287" y2="1458" stroke="#474747" stroke-width="2.9"/>
<line x1="962.9" y1="1458" x2="975.9" y2="1458" stroke="#474747" stroke-width="2.61"/>
<text x="958.9" y="1465.8" font-size="23.5" text-anchor="end" class="t">0</text>
<line x1="962.9" y1="1380.5" x2="975.9" y2="1380.5" stroke="#474747" stroke-width="2.61"/>
<text x="958.9" y="1388.3" font-size="23.5" text-anchor="end" class="t">2000</text>
<line x1="962.9" y1="1303" x2="975.9" y2="1303" stroke="#474747" stroke-width="2.61"/>
<text x="958.9" y="1310.8" font-size="23.5" text-anchor="end" class="t">4000</text>
<line x1="962.9" y1="1225.6" x2="975.9" y2="1225.6" stroke="#474747" stroke-width="2.61"/>
<text x="958.9" y="1233.3" font-size="23.5" text-anchor="end" class="t">6000</text>
<line x1="962.9" y1="1148.1" x2="975.9" y2="1148.1" stroke="#474747" stroke-width="2.61"/>
<text x="958.9" y="1155.9" font-size="23.5" text-anchor="end" class="t">8000</text>
<line x1="1064.2" y1="1458" x2="1064.2" y2="1471" stroke="#474747" stroke-width="2.61"/>
<line x1="1196.4" y1="1458" x2="1196.4" y2="1471" stroke="#474747" stroke-width="2.61"/>
<text x="1130.6" y="1107.5" font-size="25.6" text-anchor="middle" class="t">Asleep LF</text>
<text transform="translate(878.5,1312.4) rotate(-90)" x="0" y="6.5" font-size="25" text-anchor="middle" class="t">ms</text>
<text transform="translate(878.5,1312.4) rotate(-90)" x="19.4" y="-5.5" font-size="19" text-anchor="start" class="t">2</text>
<line x1="1064.2" y1="1148.8" x2="1064.2" y2="1380" stroke="#606060" stroke-width="1.8"/>
<ellipse cx="1064.2" cy="1316" rx="2.2" ry="2.9" fill="#4a4a4a"/>
<path d="M1064.2,1375.5 L1064.7,1377 C1065.2,1377.8 1067.5,1380.2 1067.8,1381.5 C1068.1,1382.8 1067.2,1383.6 1066.7,1385 C1066.2,1386.4 1064.9,1388.2 1064.7,1389.9 C1064.5,1391.6 1065.4,1393.3 1065.7,1395 C1066,1396.7 1066.9,1398 1066.8,1400 C1066.7,1402 1064.9,1404.2 1065.2,1406.7 C1065.5,1409.2 1068.1,1412.7 1068.5,1415.1 C1068.9,1417.5 1066.7,1418.9 1067.4,1421 C1068.1,1423.1 1072.3,1425.5 1072.9,1427.7 C1073.5,1430 1069.8,1432.7 1071.2,1434.5 C1072.6,1436.3 1078.1,1437.3 1081.2,1438.7 C1084.3,1440.1 1086.5,1441.5 1089.7,1442.9 C1092.9,1444.3 1097.3,1445.7 1100.2,1447.1 C1103.1,1448.5 1107.3,1450 1106.9,1451.3 C1106.5,1452.5 1101.4,1453.7 1097.7,1454.6 C1094,1455.5 1087.1,1456.3 1085,1456.7 L1043.4,1456.7 C1041.3,1456.3 1034.4,1455.5 1030.7,1454.6 C1027,1453.7 1021.9,1452.5 1021.5,1451.3 C1021.1,1450 1025.3,1448.5 1028.2,1447.1 C1031.1,1445.7 1035.5,1444.3 1038.7,1442.9 C1041.9,1441.5 1044.1,1440.1 1047.2,1438.7 C1050.3,1437.3 1055.8,1436.3 1057.2,1434.5 C1058.6,1432.7 1054.9,1430 1055.5,1427.7 C1056.1,1425.5 1060.3,1423.1 1061,1421 C1061.7,1418.9 1059.5,1417.5 1059.9,1415.1 C1060.3,1412.7 1062.9,1409.2 1063.2,1406.7 C1063.5,1404.2 1061.7,1402 1061.6,1400 C1061.5,1398 1062.4,1396.7 1062.7,1395 C1063,1393.3 1063.9,1391.6 1063.7,1389.9 C1063.5,1388.2 1062.2,1386.4 1061.7,1385 C1061.2,1383.6 1060.3,1382.8 1060.6,1381.5 C1060.9,1380.2 1063.2,1377.8 1063.8,1377 Z" fill="#00ffff" stroke="#156a6c" stroke-width="1.7" stroke-linejoin="round"/>
<line x1="1028.4" y1="1447.9" x2="1100" y2="1447.9" stroke="#156a6c" stroke-width="1.6" stroke-dasharray="3.5 2.5" opacity="0.9"/>
<line x1="1196.4" y1="1402.3" x2="1196.4" y2="1432" stroke="#707070" stroke-width="1.8"/>
<path d="M1192.8,1400.1 L1200,1400.1 L1197.2,1406.6 L1195.6,1406.6 Z" fill="#3a2a2e"/>
<ellipse cx="1196.4" cy="1422.9" rx="3.2" ry="4.2" fill="#4a3035"/>
<path d="M1196.4,1427.5 L1196.9,1429 C1196.9,1429.2 1196.1,1429.5 1197.4,1430.4 C1198.7,1431.3 1203.3,1433.2 1204.6,1434.6 C1206,1436 1205,1437.5 1205.5,1438.8 C1206,1440.1 1205.3,1441.1 1207.6,1442.2 C1209.9,1443.3 1215.6,1444.2 1219.4,1445.5 C1223.2,1446.8 1227.4,1448.3 1230.3,1449.7 C1233.2,1451.1 1235.6,1452.8 1237,1453.9 C1238.4,1455 1238.4,1456.1 1238.7,1456.5 L1154.1,1456.5 C1154.4,1456.1 1154.4,1455 1155.8,1453.9 C1157.2,1452.8 1159.6,1451.1 1162.5,1449.7 C1165.4,1448.3 1169.6,1446.8 1173.4,1445.5 C1177.2,1444.2 1182.9,1443.3 1185.2,1442.2 C1187.5,1441.1 1186.8,1440.1 1187.3,1438.8 C1187.8,1437.5 1186.9,1436 1188.2,1434.6 C1189.5,1433.2 1194.1,1431.3 1195.4,1430.4 C1196.7,1429.5 1195.9,1429.2 1196,1429 Z" fill="#ff1a36" stroke="#6e1420" stroke-width="1.7" stroke-linejoin="round"/>
<line x1="1159.9" y1="1452.3" x2="1232.9" y2="1452.3" stroke="#6e1420" stroke-width="1.6" stroke-dasharray="3.5 2.5" opacity="0.9"/>
<line x1="126.3" y1="1645.8" x2="126.3" y2="1954.5" stroke="#474747" stroke-width="2.9"/>
<line x1="113.3" y1="1954.5" x2="434.9" y2="1954.5" stroke="#474747" stroke-width="2.9"/>
<line x1="113.3" y1="1954.5" x2="126.3" y2="1954.5" stroke="#474747" stroke-width="2.61"/>
<text x="109.3" y="1962.3" font-size="23.5" text-anchor="end" class="t">0</text>
<line x1="113.3" y1="1877.6" x2="126.3" y2="1877.6" stroke="#474747" stroke-width="2.61"/>
<text x="109.3" y="1885.3" font-size="23.5" text-anchor="end" class="t">1000</text>
<line x1="113.3" y1="1800.7" x2="126.3" y2="1800.7" stroke="#474747" stroke-width="2.61"/>
<text x="109.3" y="1808.4" font-size="23.5" text-anchor="end" class="t">2000</text>
<line x1="113.3" y1="1723.7" x2="126.3" y2="1723.7" stroke="#474747" stroke-width="2.61"/>
<text x="109.3" y="1731.5" font-size="23.5" text-anchor="end" class="t">3000</text>
<line x1="113.3" y1="1646.8" x2="126.3" y2="1646.8" stroke="#474747" stroke-width="2.61"/>
<text x="109.3" y="1654.6" font-size="23.5" text-anchor="end" class="t">4000</text>
<line x1="214.2" y1="1954.5" x2="214.2" y2="1967.5" stroke="#474747" stroke-width="2.61"/>
<line x1="345.8" y1="1954.5" x2="345.8" y2="1967.5" stroke="#474747" stroke-width="2.61"/>
<text x="280.2" y="1606.4" font-size="23.9" text-anchor="middle" class="t">VLF</text>
<text transform="translate(35,1806.1) rotate(-90)" x="0" y="6.5" font-size="25" text-anchor="middle" class="t">ms</text>
<text transform="translate(35,1806.1) rotate(-90)" x="19.4" y="-5.5" font-size="19" text-anchor="start" class="t">2</text>
<text x="214.2" y="1993.2" font-size="23.8" text-anchor="middle" class="t">Good</text>
<text x="345.8" y="1993.2" font-size="23.8" text-anchor="middle" class="t">Bad</text>
<path d="M214.2,1646.1 L215.1,1647.6 C215.3,1650.1 215.9,1657.8 216.1,1662.9 C216.3,1668 216.5,1673.7 216.3,1678.2 C216.1,1682.7 215.4,1685.9 215.1,1689.7 C214.8,1693.5 214.8,1694.6 214.7,1701 C214.6,1707.4 214.6,1722.2 214.7,1728 C214.8,1733.8 214.7,1732.3 215.1,1735.5 C215.5,1738.7 216.8,1742.5 217.2,1747 C217.6,1751.5 217.3,1757.8 217.6,1762.2 C217.8,1766.7 218.2,1770.5 218.7,1773.7 C219.2,1776.9 219.7,1778.5 220.8,1781.3 C221.8,1784.1 223.2,1787.3 225,1790.7 C226.8,1794.1 229.3,1797.8 231.4,1801.4 C233.5,1805 236.1,1808.5 237.5,1812.1 C238.9,1815.7 239.2,1819.2 239.6,1822.8 C240,1826.4 239.4,1829.9 239.7,1833.5 C239.9,1837.1 240.6,1840.6 241.1,1844.2 C241.6,1847.8 242.4,1851.3 242.9,1854.9 C243.4,1858.5 242.9,1862.6 244.2,1865.6 C245.5,1868.6 248.6,1870.3 250.6,1873 C252.6,1875.7 254.9,1879.3 256,1881.6 C257.1,1883.9 257.5,1884.3 257.1,1887 C256.6,1889.7 254.9,1894 253.3,1897.6 C251.7,1901.1 249.4,1904.7 247.4,1908.3 C245.3,1911.9 243.1,1915.4 241,1919 C238.9,1922.6 237,1926.1 235.1,1929.7 C233.2,1933.3 230.9,1937.6 229.5,1940.4 C228.1,1943.2 227.1,1945.7 226.6,1946.8 L201.8,1946.8 C201.3,1945.7 200.3,1943.2 198.9,1940.4 C197.5,1937.6 195.2,1933.3 193.3,1929.7 C191.4,1926.1 189.4,1922.6 187.4,1919 C185.3,1915.4 183.1,1911.9 181,1908.3 C178.9,1904.7 176.7,1901.1 175.1,1897.6 C173.5,1894 171.8,1889.7 171.3,1887 C170.8,1884.3 171.3,1883.9 172.4,1881.6 C173.5,1879.3 175.8,1875.7 177.8,1873 C179.8,1870.3 182.9,1868.6 184.2,1865.6 C185.5,1862.6 185,1858.5 185.5,1854.9 C186,1851.3 186.8,1847.8 187.3,1844.2 C187.8,1840.6 188.4,1837.1 188.7,1833.5 C188.9,1829.9 188.4,1826.4 188.8,1822.8 C189.2,1819.2 189.5,1815.7 190.9,1812.1 C192.3,1808.5 194.9,1805 197,1801.4 C199.1,1797.8 201.6,1794.1 203.4,1790.7 C205.2,1787.3 206.5,1784.1 207.6,1781.3 C208.7,1778.5 209.2,1776.9 209.7,1773.7 C210.2,1770.5 210.5,1766.7 210.8,1762.2 C211,1757.8 210.8,1751.5 211.2,1747 C211.6,1742.5 212.9,1738.7 213.3,1735.5 C213.7,1732.3 213.6,1733.8 213.7,1728 C213.8,1722.2 213.8,1707.4 213.7,1701 C213.6,1694.6 213.6,1693.5 213.3,1689.7 C213,1685.9 212.3,1682.7 212.1,1678.2 C211.9,1673.7 212.1,1668 212.3,1662.9 C212.5,1657.8 213.1,1650.1 213.3,1647.6 Z" fill="#00ffff" stroke="#156a6c" stroke-width="1.7" stroke-linejoin="round"/>
<line x1="190" y1="1835" x2="238.4" y2="1835" stroke="#156a6c" stroke-width="1.1" stroke-dasharray="3 2.5" opacity="0.45"/>
<line x1="176.6" y1="1877.3" x2="251.8" y2="1877.3" stroke="#156a6c" stroke-width="1.6" stroke-dasharray="3.5 2.5" opacity="0.9"/>
<line x1="181.1" y1="1905.7" x2="247.3" y2="1905.7" stroke="#156a6c" stroke-width="1.1" stroke-dasharray="3 2.5" opacity="0.45"/>
<path d="M345.8,1720.7 L349,1722.2 C348.9,1723.3 348.4,1726 348.2,1729.1 C347.9,1732.2 347.8,1736.8 347.5,1740.6 C347.2,1744.4 346.7,1748.2 346.7,1752 C346.7,1755.8 347.3,1760.3 347.5,1763.5 C347.7,1766.7 347.6,1767.9 348,1771.1 C348.4,1774.3 349.8,1778.8 350,1782.6 C350.2,1786.4 349.4,1790.8 349.4,1794 C349.4,1797.2 349.8,1799.2 350,1801.7 C350.2,1804.2 350.3,1806.8 350.7,1809.3 C351.1,1811.8 351.8,1814.5 352.4,1817 C353,1819.5 353.6,1822.1 354.2,1824.6 C354.8,1827.1 355.5,1829.6 356.1,1832.2 C356.7,1834.8 356.5,1837.2 357.6,1840 C358.7,1842.8 360.3,1846.2 362.7,1849.2 C365.1,1852.2 369.7,1855.2 371.8,1858.3 C373.9,1861.3 375.3,1864.4 375.3,1867.5 C375.3,1870.6 373.5,1873.7 371.8,1876.7 C370.1,1879.8 366.4,1883.4 365,1885.8 C363.6,1888.2 363.1,1889 363.6,1891.3 C364.1,1893.6 365.8,1896.7 368.2,1899.6 C370.6,1902.5 375.1,1905.7 377.8,1908.7 C380.6,1911.8 382.9,1914.8 384.7,1917.9 C386.4,1921 388,1924 388.3,1927.1 C388.6,1930.1 388.2,1933.2 386.5,1936.2 C384.8,1939.2 380.8,1942.8 377.8,1945.4 C374.8,1948 370.1,1950.7 368.6,1951.8 L323,1951.8 C321.5,1950.7 316.8,1948 313.8,1945.4 C310.8,1942.8 306.9,1939.2 305.1,1936.2 C303.4,1933.2 303,1930.1 303.3,1927.1 C303.6,1924 305.2,1921 306.9,1917.9 C308.7,1914.8 311.1,1911.8 313.8,1908.7 C316.6,1905.7 321,1902.5 323.4,1899.6 C325.8,1896.7 327.5,1893.6 328,1891.3 C328.5,1889 328,1888.2 326.6,1885.8 C325.2,1883.4 321.5,1879.8 319.8,1876.7 C318.1,1873.7 316.3,1870.6 316.3,1867.5 C316.3,1864.4 317.7,1861.3 319.8,1858.3 C321.9,1855.2 326.5,1852.2 328.9,1849.2 C331.3,1846.2 332.9,1842.8 334,1840 C335.1,1837.2 334.9,1834.8 335.5,1832.2 C336.1,1829.6 336.8,1827.1 337.4,1824.6 C338,1822.1 338.6,1819.5 339.2,1817 C339.8,1814.5 340.5,1811.8 340.9,1809.3 C341.3,1806.8 341.4,1804.2 341.6,1801.7 C341.8,1799.2 342.2,1797.2 342.2,1794 C342.2,1790.8 341.4,1786.4 341.6,1782.6 C341.8,1778.8 343.2,1774.3 343.6,1771.1 C344,1767.9 343.9,1766.7 344.1,1763.5 C344.3,1760.3 344.9,1755.8 344.9,1752 C344.9,1748.2 344.4,1744.4 344.1,1740.6 C343.9,1736.8 343.7,1732.2 343.4,1729.1 C343.2,1726 342.7,1723.3 342.6,1722.2 Z" fill="#ff1a36" stroke="#6e1420" stroke-width="1.7" stroke-linejoin="round"/>
<line x1="318" y1="1868" x2="373.6" y2="1868" stroke="#6e1420" stroke-width="1.1" stroke-dasharray="3 2.5" opacity="0.45"/>
<line x1="315.3" y1="1908.7" x2="376.3" y2="1908.7" stroke="#6e1420" stroke-width="1.6" stroke-dasharray="3.5 2.5" opacity="0.9"/>
<line x1="308.3" y1="1938" x2="383.3" y2="1938" stroke="#6e1420" stroke-width="1.1" stroke-dasharray="3 2.5" opacity="0.45"/>
<line x1="550.8" y1="1661.7" x2="550.8" y2="1954.5" stroke="#474747" stroke-width="2.9"/>
<line x1="537.8" y1="1954.5" x2="844.2" y2="1954.5" stroke="#474747" stroke-width="2.9"/>
<line x1="537.8" y1="1954.5" x2="550.8" y2="1954.5" stroke="#474747" stroke-width="2.61"/>
<text x="533.8" y="1962.3" font-size="23.5" text-anchor="end" class="t">0</text>
<line x1="537.8" y1="1881.5" x2="550.8" y2="1881.5" stroke="#474747" stroke-width="2.61"/>
<text x="533.8" y="1889.3" font-size="23.5" text-anchor="end" class="t">1000</text>
<line x1="537.8" y1="1808.6" x2="550.8" y2="1808.6" stroke="#474747" stroke-width="2.61"/>
<text x="533.8" y="1816.4" font-size="23.5" text-anchor="end" class="t">2000</text>
<line x1="537.8" y1="1735.7" x2="550.8" y2="1735.7" stroke="#474747" stroke-width="2.61"/>
<text x="533.8" y="1743.4" font-size="23.5" text-anchor="end" class="t">3000</text>
<line x1="537.8" y1="1662.7" x2="550.8" y2="1662.7" stroke="#474747" stroke-width="2.61"/>
<text x="533.8" y="1670.5" font-size="23.5" text-anchor="end" class="t">4000</text>
<line x1="634.3" y1="1954.5" x2="634.3" y2="1967.5" stroke="#474747" stroke-width="2.61"/>
<line x1="759.3" y1="1954.5" x2="759.3" y2="1967.5" stroke="#474747" stroke-width="2.61"/>
<text x="696.4" y="1624.6" font-size="23.8" text-anchor="middle" class="t">Awake VLF</text>
<text transform="translate(463.3,1813) rotate(-90)" x="0" y="6.5" font-size="25" text-anchor="middle" class="t">ms</text>
<text transform="translate(463.3,1813) rotate(-90)" x="19.4" y="-5.5" font-size="19" text-anchor="start" class="t">2</text>
<text x="634.3" y="1989.7" font-size="22.5" text-anchor="middle" class="t">Good</text>
<text x="759.3" y="1989.7" font-size="22.5" text-anchor="middle" class="t">Bad</text>
<path d="M634.3,1696.9 L636.5,1698.4 C636.5,1700.8 636.7,1706.7 636.7,1712.9 C636.7,1719.1 636.8,1728.2 636.7,1735.8 C636.6,1743.4 636.3,1751.1 636.2,1758.8 C636.1,1766.5 635.8,1776 636,1781.7 C636.2,1787.4 637,1789.3 637.5,1793.1 C638,1796.9 638.4,1801.4 639,1804.6 C639.6,1807.8 640.3,1809.7 641.3,1812.2 C642.3,1814.8 643.6,1817.4 645.1,1819.9 C646.6,1822.5 648.8,1825 650.5,1827.5 C652.2,1830 653.7,1832.7 655.1,1835.2 C656.5,1837.8 657.9,1840.5 658.9,1842.8 C659.9,1845.1 661,1846.6 661,1849.2 C661,1851.8 659.5,1855.2 659,1858.3 C658.5,1861.3 657.5,1864.4 658.3,1867.5 C659.1,1870.6 662.1,1873.7 664,1876.7 C665.9,1879.8 667.8,1882 669.5,1885.8 C671.2,1889.6 674,1895.8 674.5,1899.6 C675,1903.4 673.8,1905.7 672.5,1908.7 C671.2,1911.8 668.9,1914.8 666.8,1917.9 C664.7,1921 661.4,1924 659.9,1927.1 C658.4,1930.1 658.5,1933.2 657.6,1936.2 C656.7,1939.2 655.3,1943.3 654.4,1945.4 C653.5,1947.5 652.5,1948.1 652.1,1948.6 L616.5,1948.6 C616.1,1948.1 615.1,1947.5 614.2,1945.4 C613.3,1943.3 611.9,1939.2 611,1936.2 C610.1,1933.2 610.2,1930.1 608.7,1927.1 C607.2,1924 603.9,1921 601.8,1917.9 C599.7,1914.8 597.4,1911.8 596.1,1908.7 C594.8,1905.7 593.6,1903.4 594.1,1899.6 C594.6,1895.8 597.3,1889.6 599.1,1885.8 C600.8,1882 602.7,1879.8 604.6,1876.7 C606.5,1873.7 609.5,1870.6 610.3,1867.5 C611.1,1864.4 610,1861.3 609.6,1858.3 C609.1,1855.2 607.6,1851.8 607.6,1849.2 C607.6,1846.6 608.7,1845.1 609.7,1842.8 C610.7,1840.5 612.1,1837.8 613.5,1835.2 C614.9,1832.7 616.4,1830 618.1,1827.5 C619.8,1825 622,1822.5 623.5,1819.9 C625,1817.4 626.3,1814.8 627.3,1812.2 C628.3,1809.7 629,1807.8 629.6,1804.6 C630.2,1801.4 630.6,1796.9 631.1,1793.1 C631.6,1789.3 632.4,1787.4 632.6,1781.7 C632.8,1776 632.5,1766.5 632.4,1758.8 C632.3,1751.1 632,1743.4 631.9,1735.8 C631.8,1728.2 631.9,1719.1 631.9,1712.9 C631.9,1706.7 632.1,1700.8 632.1,1698.4 Z" fill="#00ffff" stroke="#156a6c" stroke-width="1.7" stroke-linejoin="round"/>
<line x1="609.3" y1="1850" x2="659.3" y2="1850" stroke="#156a6c" stroke-width="1.1" stroke-dasharray="3 2.5" opacity="0.45"/>
<line x1="598.9" y1="1890.4" x2="669.7" y2="1890.4" stroke="#156a6c" stroke-width="1.6" stroke-dasharray="3.5 2.5" opacity="0.9"/>
<line x1="600.4" y1="1913.3" x2="668.1" y2="1913.3" stroke="#156a6c" stroke-width="1.1" stroke-dasharray="3 2.5" opacity="0.45"/>
<path d="M759.3,1731.5 L762.9,1733 C762.8,1734 762.5,1736.8 762.3,1739.1 C762.1,1741.4 761.8,1743.5 761.5,1746.7 C761.2,1749.9 760.8,1754.4 760.8,1758.2 C760.8,1762 760.8,1765.9 761.2,1769.7 C761.5,1773.5 762.5,1777.3 762.9,1781.1 C763.3,1784.9 763.9,1788.8 763.6,1792.6 C763.3,1796.4 761.8,1800.8 761.3,1804 C760.8,1807.2 760.6,1808.5 760.8,1811.7 C761,1814.9 761.8,1819.3 762.3,1823.1 C762.8,1826.9 762.9,1830.8 763.6,1834.6 C764.3,1838.4 765.4,1842.8 766.7,1846 C768,1849.2 769.8,1851.2 771.3,1853.7 C772.8,1856.2 774.3,1858.4 775.8,1861 C777.3,1863.6 779.7,1866.3 780.3,1869.2 C780.9,1872.1 779.1,1875.2 779.4,1878.3 C779.7,1881.3 781.1,1884.4 782.1,1887.5 C783.1,1890.6 784.3,1893.7 785.3,1896.7 C786.3,1899.8 787.2,1902.8 788.1,1905.8 C789,1908.8 789.4,1911.9 790.8,1915 C792.2,1918.1 794.9,1921.2 796.3,1924.2 C797.7,1927.2 798.9,1930.2 799.3,1933.3 C799.7,1936.3 800,1940 798.9,1942.5 C797.8,1945 794.6,1946.6 792.7,1948 C790.7,1949.4 788.1,1950.2 787.2,1950.7 L731.4,1950.7 C730.5,1950.2 727.9,1949.4 725.9,1948 C723.9,1946.6 720.8,1945 719.7,1942.5 C718.6,1940 718.9,1936.3 719.3,1933.3 C719.7,1930.2 720.9,1927.2 722.3,1924.2 C723.7,1921.2 726.4,1918.1 727.8,1915 C729.2,1911.9 729.6,1908.8 730.5,1905.8 C731.4,1902.8 732.3,1899.8 733.3,1896.7 C734.3,1893.7 735.5,1890.6 736.5,1887.5 C737.5,1884.4 738.9,1881.3 739.2,1878.3 C739.5,1875.2 737.7,1872.1 738.3,1869.2 C738.9,1866.3 741.3,1863.6 742.8,1861 C744.3,1858.4 745.8,1856.2 747.3,1853.7 C748.8,1851.2 750.6,1849.2 751.9,1846 C753.2,1842.8 754.3,1838.4 755,1834.6 C755.7,1830.8 755.8,1826.9 756.3,1823.1 C756.8,1819.3 757.6,1814.9 757.8,1811.7 C758,1808.5 757.8,1807.2 757.3,1804 C756.8,1800.8 755.3,1796.4 755,1792.6 C754.7,1788.8 755.3,1784.9 755.7,1781.1 C756.1,1777.3 757,1773.5 757.4,1769.7 C757.8,1765.9 757.8,1762 757.8,1758.2 C757.8,1754.4 757.3,1749.9 757.1,1746.7 C756.8,1743.5 756.5,1741.4 756.3,1739.1 C756.1,1736.8 755.8,1734 755.7,1733 Z" fill="#ff1a36" stroke="#6e1420" stroke-width="1.7" stroke-linejoin="round"/>
<line x1="740.7" y1="1878" x2="777.9" y2="1878" stroke="#6e1420" stroke-width="1.1" stroke-dasharray="3 2.5" opacity="0.45"/>
<line x1="729.3" y1="1915" x2="789.3" y2="1915" stroke="#6e1420" stroke-width="1.6" stroke-dasharray="3.5 2.5" opacity="0.9"/>
<line x1="721.1" y1="1940" x2="797.5" y2="1940" stroke="#6e1420" stroke-width="1.1" stroke-dasharray="3 2.5" opacity="0.45"/>
<line x1="970.7" y1="1656.3" x2="970.7" y2="1954.5" stroke="#474747" stroke-width="2.9"/>
<line x1="957.7" y1="1954.5" x2="1268.1" y2="1954.5" stroke="#474747" stroke-width="2.9"/>
<line x1="957.7" y1="1954.5" x2="970.7" y2="1954.5" stroke="#474747" stroke-width="2.61"/>
<text x="953.7" y="1962.3" font-size="23.5" text-anchor="end" class="t">0</text>
<line x1="957.7" y1="1855.4" x2="970.7" y2="1855.4" stroke="#474747" stroke-width="2.61"/>
<text x="953.7" y="1863.2" font-size="23.5" text-anchor="end" class="t">2000</text>
<line x1="957.7" y1="1756.4" x2="970.7" y2="1756.4" stroke="#474747" stroke-width="2.61"/>
<text x="953.7" y="1764.1" font-size="23.5" text-anchor="end" class="t">4000</text>
<line x1="957.7" y1="1657.3" x2="970.7" y2="1657.3" stroke="#474747" stroke-width="2.61"/>
<text x="953.7" y="1665.1" font-size="23.5" text-anchor="end" class="t">6000</text>
<line x1="1055.4" y1="1954.5" x2="1055.4" y2="1967.5" stroke="#474747" stroke-width="2.61"/>
<line x1="1182" y1="1954.5" x2="1182" y2="1967.5" stroke="#474747" stroke-width="2.61"/>
<text x="1118.5" y="1619.1" font-size="24.2" text-anchor="middle" class="t">Asleep VLF</text>
<text transform="translate(878.5,1813) rotate(-90)" x="0" y="6.5" font-size="25" text-anchor="middle" class="t">ms</text>
<text transform="translate(878.5,1813) rotate(-90)" x="19.4" y="-5.5" font-size="19" text-anchor="start" class="t">2</text>
<text x="1055.4" y="1990.9" font-size="22.5" text-anchor="middle" class="t">Good</text>
<text x="1182" y="1990.9" font-size="22.5" text-anchor="middle" class="t">Bad</text>
<line x1="1055.4" y1="1658" x2="1055.4" y2="1755" stroke="#707070" stroke-width="1.8"/>
<path d="M1055.4,1750.5 L1055.9,1752 C1056.1,1753.2 1057.2,1756 1057.3,1759.1 C1057.4,1762.2 1056.9,1767.4 1056.7,1770.6 C1056.5,1773.8 1055.8,1775 1055.9,1778.2 C1056,1781.4 1056.9,1785.9 1057.4,1789.7 C1057.9,1793.5 1058.2,1797.3 1059,1801.1 C1059.8,1804.9 1061.1,1808.8 1062,1812.6 C1062.9,1816.4 1063.5,1820.2 1064.3,1824 C1065.1,1827.8 1065.8,1831.7 1066.6,1835.5 C1067.4,1839.3 1068.3,1843.2 1068.9,1847 C1069.5,1850.8 1070,1855.2 1070.4,1858.4 C1070.9,1861.6 1070.2,1863.5 1071.6,1866.1 C1073,1868.6 1075.3,1870.9 1078.6,1873.7 C1081.9,1876.5 1088.6,1879.8 1091.5,1882.9 C1094.4,1886 1095,1889.8 1095.9,1892.1 C1096.8,1894.4 1097,1894.4 1096.8,1896.7 C1096.7,1899 1095.8,1902.8 1095,1905.8 C1094.2,1908.8 1093.4,1911.9 1092,1915 C1090.6,1918.1 1089.2,1921.2 1086.5,1924.2 C1083.8,1927.2 1078.5,1930.2 1075.9,1933.3 C1073.3,1936.3 1072.4,1939.9 1070.9,1942.5 C1069.5,1945.1 1067.8,1947.8 1067.2,1948.9 L1043.6,1948.9 C1043,1947.8 1041.4,1945.1 1039.9,1942.5 C1038.5,1939.9 1037.5,1936.3 1034.9,1933.3 C1032.3,1930.2 1027,1927.2 1024.3,1924.2 C1021.6,1921.2 1020.2,1918.1 1018.8,1915 C1017.4,1911.9 1016.6,1908.8 1015.8,1905.8 C1015,1902.8 1014.2,1899 1014,1896.7 C1013.9,1894.4 1014,1894.4 1014.9,1892.1 C1015.8,1889.8 1016.4,1886 1019.3,1882.9 C1022.2,1879.8 1028.9,1876.5 1032.2,1873.7 C1035.5,1870.9 1037.8,1868.6 1039.2,1866.1 C1040.6,1863.5 1040,1861.6 1040.4,1858.4 C1040.9,1855.2 1041.3,1850.8 1041.9,1847 C1042.5,1843.2 1043.4,1839.3 1044.2,1835.5 C1045,1831.7 1045.7,1827.8 1046.5,1824 C1047.3,1820.2 1047.9,1816.4 1048.8,1812.6 C1049.7,1808.8 1051,1804.9 1051.8,1801.1 C1052.6,1797.3 1052.9,1793.5 1053.4,1789.7 C1053.9,1785.9 1054.8,1781.4 1054.9,1778.2 C1055,1775 1054.3,1773.8 1054.1,1770.6 C1053.9,1767.4 1053.4,1762.2 1053.5,1759.1 C1053.6,1756 1054.7,1753.2 1054.9,1752 Z" fill="#00ffff" stroke="#156a6c" stroke-width="1.7" stroke-linejoin="round"/>
<line x1="1036.2" y1="1871" x2="1074.6" y2="1871" stroke="#156a6c" stroke-width="1.1" stroke-dasharray="3 2.5" opacity="0.45"/>
<line x1="1015.5" y1="1896.7" x2="1095.3" y2="1896.7" stroke="#156a6c" stroke-width="1.6" stroke-dasharray="3.5 2.5" opacity="0.9"/>
<line x1="1021.1" y1="1916.4" x2="1089.7" y2="1916.4" stroke="#156a6c" stroke-width="1.1" stroke-dasharray="3 2.5" opacity="0.45"/>
<path d="M1182,1804.5 L1184.9,1806 C1184.9,1806.8 1184.8,1809 1184.6,1811 C1184.4,1813 1184.3,1814.5 1184,1817.9 C1183.7,1821.4 1182.5,1827.9 1183,1831.7 C1183.5,1835.5 1185.6,1837.8 1187,1840.8 C1188.4,1843.8 1190.3,1846.9 1191.3,1850 C1192.3,1853.1 1192.1,1856.2 1193.1,1859.2 C1194.1,1862.2 1195.7,1865.2 1197.5,1868.3 C1199.3,1871.3 1202.8,1875.2 1204.1,1877.5 C1205.4,1879.8 1205.5,1879.8 1205.1,1882.1 C1204.7,1884.4 1202.9,1888.2 1201.6,1891.2 C1200.2,1894.2 1197,1897.3 1197,1900.4 C1197,1903.5 1199,1906.5 1201.6,1909.6 C1204.2,1912.6 1209,1914.9 1212.6,1918.7 C1216.1,1922.5 1221.8,1928.7 1222.9,1932.5 C1224.1,1936.3 1222,1938.7 1219.5,1941.7 C1217,1944.8 1209.6,1949.3 1207.6,1950.8 L1156.4,1950.8 C1154.4,1949.3 1147,1944.8 1144.5,1941.7 C1142,1938.7 1139.9,1936.3 1141.1,1932.5 C1142.2,1928.7 1147.9,1922.5 1151.4,1918.7 C1155,1914.9 1159.8,1912.6 1162.4,1909.6 C1165,1906.5 1167,1903.5 1167,1900.4 C1167,1897.3 1163.8,1894.2 1162.4,1891.2 C1161.1,1888.2 1159.3,1884.4 1158.9,1882.1 C1158.5,1879.8 1158.6,1879.8 1159.9,1877.5 C1161.2,1875.2 1164.7,1871.3 1166.5,1868.3 C1168.3,1865.2 1169.9,1862.2 1170.9,1859.2 C1171.9,1856.2 1171.7,1853.1 1172.7,1850 C1173.7,1846.9 1175.6,1843.8 1177,1840.8 C1178.4,1837.8 1180.5,1835.5 1181,1831.7 C1181.5,1827.9 1180.3,1821.4 1180,1817.9 C1179.7,1814.5 1179.6,1813 1179.4,1811 C1179.2,1809 1179.1,1806.8 1179.1,1806 Z" fill="#ff1a36" stroke="#6e1420" stroke-width="1.7" stroke-linejoin="round"/>
<line x1="1160.9" y1="1880" x2="1203.1" y2="1880" stroke="#6e1420" stroke-width="1.1" stroke-dasharray="3 2.5" opacity="0.45"/>
<line x1="1149.5" y1="1923.3" x2="1214.5" y2="1923.3" stroke="#6e1420" stroke-width="1.6" stroke-dasharray="3.5 2.5" opacity="0.9"/>
<line x1="1146.4" y1="1942" x2="1217.6" y2="1942" stroke="#6e1420" stroke-width="1.1" stroke-dasharray="3 2.5" opacity="0.45"/>
<line x1="127.4" y1="2115.8" x2="127.4" y2="2437.2" stroke="#474747" stroke-width="2.9"/>
<line x1="114.4" y1="2437.2" x2="447" y2="2437.2" stroke="#474747" stroke-width="2.9"/>
<line x1="114.4" y1="2437.2" x2="127.4" y2="2437.2" stroke="#474747" stroke-width="2.61"/>
<text x="110.4" y="2445" font-size="23.5" text-anchor="end" class="t">0</text>
<line x1="114.4" y1="2330.4" x2="127.4" y2="2330.4" stroke="#474747" stroke-width="2.61"/>
<text x="110.4" y="2338.2" font-size="23.5" text-anchor="end" class="t">20</text>
<line x1="114.4" y1="2223.6" x2="127.4" y2="2223.6" stroke="#474747" stroke-width="2.61"/>
<text x="110.4" y="2231.4" font-size="23.5" text-anchor="end" class="t">40</text>
<line x1="114.4" y1="2116.8" x2="127.4" y2="2116.8" stroke="#474747" stroke-width="2.61"/>
<text x="110.4" y="2124.6" font-size="23.5" text-anchor="end" class="t">60</text>
<line x1="218.2" y1="2437.2" x2="218.2" y2="2450.2" stroke="#474747" stroke-width="2.61"/>
<line x1="355.5" y1="2437.2" x2="355.5" y2="2450.2" stroke="#474747" stroke-width="2.61"/>
<text x="288.8" y="2074.7" font-size="26.8" text-anchor="middle" class="t">Triangular Index</text>
<text x="218.2" y="2477.2" font-size="24.5" text-anchor="middle" class="t">Good</text>
<text x="355.5" y="2477.2" font-size="24.5" text-anchor="middle" class="t">Bad</text>
<path d="M218.3,2215.8 L220,2217.3 C220,2218.1 219.9,2219.9 219.8,2222 C219.7,2224.1 219.5,2227 219.5,2230 C219.5,2233 219.8,2236.7 219.8,2240 C219.8,2243.3 219.3,2245.8 219.3,2250 C219.3,2254.2 219.6,2261 219.8,2265 C220,2269 220.2,2270.4 220.5,2274.2 C220.8,2278 220.9,2284.8 221.4,2287.9 C221.9,2291 222.3,2291 223.3,2292.5 C224.3,2294 225.8,2295.6 227.3,2297.1 C228.8,2298.6 230.7,2300.2 232.4,2301.7 C234.1,2303.2 236.1,2304.7 237.5,2306.2 C238.9,2307.7 240.1,2309.3 241.1,2310.8 C242.1,2312.3 242.7,2313.9 243.4,2315.4 C244.1,2316.9 244.3,2317.7 245.5,2320 C246.7,2322.3 248.6,2326.1 250.8,2329.2 C253.1,2332.2 257,2335.4 259,2338.3 C261,2341.2 262.5,2344.3 262.7,2346.6 C262.9,2348.9 261.6,2350.1 259.9,2352.1 C258.2,2354.1 254.5,2356.2 252.6,2358.5 C250.7,2360.8 249.2,2363.4 248.7,2365.8 C248.2,2368.2 249.7,2370.9 249.8,2373.2 C249.9,2375.5 250,2377.8 249.2,2379.6 C248.5,2381.4 247.6,2381.9 245.3,2384.2 C243,2386.5 239,2390.2 235.6,2393.3 C232.2,2396.4 227.8,2399.6 225.1,2402.5 C222.4,2405.4 220.3,2409.3 219.3,2410.7 L217.3,2410.7 C216.3,2409.3 214.2,2405.4 211.5,2402.5 C208.8,2399.6 204.4,2396.4 201,2393.3 C197.6,2390.2 193.6,2386.5 191.3,2384.2 C189,2381.9 188.2,2381.4 187.4,2379.6 C186.7,2377.8 186.7,2375.5 186.8,2373.2 C186.9,2370.9 188.4,2368.2 187.9,2365.8 C187.4,2363.4 185.9,2360.8 184,2358.5 C182.1,2356.2 178.4,2354.1 176.7,2352.1 C175,2350.1 173.8,2348.9 173.9,2346.6 C174.1,2344.3 175.6,2341.2 177.6,2338.3 C179.6,2335.4 183.6,2332.2 185.8,2329.2 C188.1,2326.1 189.9,2322.3 191.1,2320 C192.3,2317.7 192.5,2316.9 193.2,2315.4 C193.9,2313.9 194.5,2312.3 195.5,2310.8 C196.5,2309.3 197.7,2307.7 199.1,2306.2 C200.6,2304.7 202.5,2303.2 204.2,2301.7 C205.9,2300.2 207.8,2298.6 209.3,2297.1 C210.8,2295.6 212.3,2294 213.3,2292.5 C214.3,2291 214.7,2291 215.2,2287.9 C215.7,2284.8 215.8,2278 216.1,2274.2 C216.4,2270.4 216.6,2269 216.8,2265 C217,2261 217.3,2254.2 217.3,2250 C217.3,2245.8 216.8,2243.3 216.8,2240 C216.8,2236.7 217.1,2233 217.1,2230 C217.1,2227 216.9,2224.1 216.8,2222 C216.7,2219.9 216.6,2218.1 216.6,2217.3 Z" fill="#00ffff" stroke="#156a6c" stroke-width="1.7" stroke-linejoin="round"/>
<line x1="187.3" y1="2329.2" x2="249.3" y2="2329.2" stroke="#156a6c" stroke-width="1.1" stroke-dasharray="3 2.5" opacity="0.45"/>
<line x1="175.4" y1="2346.6" x2="261.2" y2="2346.6" stroke="#156a6c" stroke-width="1.6" stroke-dasharray="3.5 2.5" opacity="0.9"/>
<line x1="188.3" y1="2373.2" x2="248.3" y2="2373.2" stroke="#156a6c" stroke-width="1.1" stroke-dasharray="3 2.5" opacity="0.45"/>
<line x1="355.5" y1="2146" x2="355.5" y2="2270" stroke="#808080" stroke-width="1.8"/>
<path d="M355.5,2138 L358.5,2138 C358.3,2138.8 357.9,2141.2 357.5,2143 C357.1,2144.8 356.2,2147.6 355.9,2148.5 L355.1,2148.5 C354.8,2147.6 353.9,2144.8 353.5,2143 C353.1,2141.2 352.7,2138.8 352.5,2138 Z" fill="#ff1a36" stroke="#6e1420" stroke-width="1.7" stroke-linejoin="round"/>
<path d="M355.5,2265.5 L355.9,2267 C356.5,2269.2 358.3,2275.8 359.5,2280 C360.7,2284.2 362.8,2289.1 363.2,2292.4 C363.6,2295.7 362.7,2297.7 362,2300 C361.3,2302.3 359.6,2303.6 359.1,2306.3 C358.6,2309 358.9,2312.9 359,2316 C359.1,2319.1 359.9,2322.1 360,2325 C360.1,2327.9 358.7,2331.5 359.5,2333.7 C360.3,2335.9 362.7,2336 365,2338.3 C367.3,2340.6 371,2344.4 373.3,2347.5 C375.6,2350.6 376.7,2353.9 378.8,2356.7 C380.9,2359.4 383.3,2361.9 386.1,2364 C388.9,2366.1 393.5,2367.8 395.7,2369.5 C397.9,2371.2 399.7,2372.4 399.4,2374.1 C399.1,2375.8 396.1,2377.9 393.9,2379.6 C391.7,2381.3 388.5,2382.7 386.1,2384.2 C383.7,2385.7 381.3,2387.2 379.7,2388.7 C378.1,2390.2 377.7,2391.8 376.5,2393.3 C375.3,2394.8 374.1,2396.4 372.4,2397.9 C370.7,2399.4 367.8,2401.2 366.4,2402.5 C364.9,2403.8 364.1,2405.2 363.7,2405.7 L347.3,2405.7 C346.9,2405.2 346.1,2403.8 344.6,2402.5 C343.2,2401.2 340.3,2399.4 338.6,2397.9 C336.9,2396.4 335.7,2394.8 334.5,2393.3 C333.3,2391.8 332.9,2390.2 331.3,2388.7 C329.7,2387.2 327.3,2385.7 324.9,2384.2 C322.5,2382.7 319.3,2381.3 317.1,2379.6 C314.9,2377.9 311.9,2375.8 311.6,2374.1 C311.3,2372.4 313.1,2371.2 315.3,2369.5 C317.5,2367.8 322.1,2366.1 324.9,2364 C327.7,2361.9 330.1,2359.4 332.2,2356.7 C334.3,2353.9 335.4,2350.6 337.7,2347.5 C340,2344.4 343.7,2340.6 346,2338.3 C348.3,2336 350.7,2335.9 351.5,2333.7 C352.3,2331.5 350.9,2327.9 351,2325 C351.1,2322.1 351.9,2319.1 352,2316 C352.1,2312.9 352.4,2309 351.9,2306.3 C351.4,2303.6 349.7,2302.3 349,2300 C348.3,2297.7 347.4,2295.7 347.8,2292.4 C348.2,2289.1 350.3,2284.2 351.5,2280 C352.7,2275.8 354.5,2269.2 355.1,2267 Z" fill="#ff1a36" stroke="#6e1420" stroke-width="1.7" stroke-linejoin="round"/>
<line x1="313.5" y1="2373.6" x2="397.5" y2="2373.6" stroke="#6e1420" stroke-width="1.6" stroke-dasharray="3.5 2.5" opacity="0.9"/>
<line x1="550.8" y1="2133" x2="550.8" y2="2436.7" stroke="#474747" stroke-width="2.9"/>
<line x1="537.8" y1="2436.7" x2="854.5" y2="2436.7" stroke="#474747" stroke-width="2.9"/>
<line x1="537.8" y1="2436.7" x2="550.8" y2="2436.7" stroke="#474747" stroke-width="2.61"/>
<text x="533.8" y="2444.5" font-size="23.5" text-anchor="end" class="t">0</text>
<line x1="537.8" y1="2361" x2="550.8" y2="2361" stroke="#474747" stroke-width="2.61"/>
<text x="533.8" y="2368.8" font-size="23.5" text-anchor="end" class="t">2</text>
<line x1="537.8" y1="2285.3" x2="550.8" y2="2285.3" stroke="#474747" stroke-width="2.61"/>
<text x="533.8" y="2293.1" font-size="23.5" text-anchor="end" class="t">4</text>
<line x1="537.8" y1="2209.7" x2="550.8" y2="2209.7" stroke="#474747" stroke-width="2.61"/>
<text x="533.8" y="2217.4" font-size="23.5" text-anchor="end" class="t">6</text>
<line x1="537.8" y1="2134" x2="550.8" y2="2134" stroke="#474747" stroke-width="2.61"/>
<text x="533.8" y="2141.8" font-size="23.5" text-anchor="end" class="t">8</text>
<line x1="637.3" y1="2436.7" x2="637.3" y2="2449.7" stroke="#474747" stroke-width="2.61"/>
<line x1="767.3" y1="2436.7" x2="767.3" y2="2449.7" stroke="#474747" stroke-width="2.61"/>
<text x="701.6" y="2093.6" font-size="25.1" text-anchor="middle" class="t">LF/HF ratio</text>
<text x="637.3" y="2473.3" font-size="23.1" text-anchor="middle" class="t">Good</text>
<text x="767.3" y="2473.3" font-size="23.1" text-anchor="middle" class="t">Bad</text>
<path d="M637.3,2154.9 L639.3,2156.4 C639.4,2157.8 639.8,2161.5 639.8,2165 C639.8,2168.5 639.7,2172.4 639.5,2177.5 C639.3,2182.6 639.1,2190.5 638.8,2195.8 C638.5,2201.2 637.8,2205 637.8,2209.6 C637.8,2214.2 638.3,2218.7 638.8,2223.3 C639.3,2227.9 640.7,2232.5 640.9,2237.1 C641.1,2241.7 639.8,2246.2 640,2250.8 C640.2,2255.4 641.4,2260 642,2264.6 C642.6,2269.2 643.2,2273.7 643.9,2278.3 C644.6,2282.9 645.5,2287.5 646.2,2292.1 C646.9,2296.7 647.5,2302.3 648.2,2305.8 C648.9,2309.3 649.4,2310.9 650.5,2313.2 C651.6,2315.5 652.8,2317 654.8,2319.6 C656.8,2322.2 660.6,2325.6 662.3,2328.7 C663.9,2331.8 663.5,2335.2 664.7,2338.3 C665.9,2341.4 667.7,2344.4 669.3,2347.5 C670.9,2350.6 672.8,2353.9 674.3,2356.7 C675.8,2359.4 677.2,2361.7 678,2364 C678.8,2366.3 679.4,2368.3 678.9,2370.4 C678.4,2372.5 677.1,2374.5 675.3,2376.8 C673.5,2379.1 669.4,2382 667.9,2384.2 C666.4,2386.3 666.8,2387.4 666.5,2389.7 C666.2,2392 667.2,2395 666.1,2397.9 C665,2400.8 662.1,2404.1 659.7,2407.1 C657.2,2410.1 653.9,2413.4 651.4,2416.2 C648.9,2418.9 646,2421.6 644.5,2423.6 C643,2425.6 642.7,2427.4 642.3,2428.2 L632.3,2428.2 C631.9,2427.4 631.6,2425.6 630.1,2423.6 C628.6,2421.6 625.7,2418.9 623.2,2416.2 C620.7,2413.4 617.3,2410.1 614.9,2407.1 C612.5,2404.1 609.6,2400.8 608.5,2397.9 C607.4,2395 608.4,2392 608.1,2389.7 C607.8,2387.4 608.2,2386.3 606.7,2384.2 C605.2,2382 601.1,2379.1 599.3,2376.8 C597.5,2374.5 596.1,2372.5 595.7,2370.4 C595.2,2368.3 595.8,2366.3 596.6,2364 C597.4,2361.7 598.8,2359.4 600.3,2356.7 C601.8,2353.9 603.7,2350.6 605.3,2347.5 C606.9,2344.4 608.7,2341.4 609.9,2338.3 C611.1,2335.2 610.6,2331.8 612.3,2328.7 C613.9,2325.6 617.8,2322.2 619.8,2319.6 C621.8,2317 623,2315.5 624.1,2313.2 C625.2,2310.9 625.7,2309.3 626.4,2305.8 C627.1,2302.3 627.7,2296.7 628.4,2292.1 C629.1,2287.5 630,2282.9 630.7,2278.3 C631.4,2273.7 631.9,2269.2 632.6,2264.6 C633.2,2260 634.4,2255.4 634.6,2250.8 C634.8,2246.2 633.5,2241.7 633.7,2237.1 C633.9,2232.5 635.3,2227.9 635.8,2223.3 C636.3,2218.7 636.8,2214.2 636.8,2209.6 C636.8,2205 636.1,2201.2 635.8,2195.8 C635.5,2190.5 635.3,2182.6 635.1,2177.5 C634.9,2172.4 634.8,2168.5 634.8,2165 C634.8,2161.5 635.2,2157.8 635.3,2156.4 Z" fill="#00ffff" stroke="#156a6c" stroke-width="1.7" stroke-linejoin="round"/>
<line x1="613" y1="2331.9" x2="661.6" y2="2331.9" stroke="#156a6c" stroke-width="1.1" stroke-dasharray="3 2.5" opacity="0.45"/>
<line x1="598.1" y1="2364" x2="676.5" y2="2364" stroke="#156a6c" stroke-width="1.6" stroke-dasharray="3.5 2.5" opacity="0.9"/>
<line x1="609.6" y1="2389.7" x2="665" y2="2389.7" stroke="#156a6c" stroke-width="1.1" stroke-dasharray="3 2.5" opacity="0.45"/>
<path d="M767.3,2191.3 L769.8,2192.8 C769.9,2193.5 770.2,2195.3 770.2,2197 C770.1,2198.7 769.7,2200.4 769.5,2202.9 C769.3,2205.4 769,2208.3 768.8,2212.1 C768.6,2215.9 768.3,2221.2 768.3,2225.8 C768.3,2230.4 768.7,2235.8 768.8,2239.6 C768.9,2243.4 768.2,2245.6 769,2248.7 C769.8,2251.8 771.9,2254.8 773.6,2257.9 C775.3,2261 777.7,2264.1 779.1,2267.1 C780.5,2270.1 781.3,2273.1 781.9,2276.2 C782.5,2279.2 782.1,2282.3 782.6,2285.4 C783,2288.5 783.8,2291.6 784.6,2294.6 C785.4,2297.6 786.6,2300.6 787.4,2303.7 C788.2,2306.8 789.3,2310.3 789.5,2312.9 C789.7,2315.5 789.1,2316.6 788.8,2319.2 C788.5,2321.8 787.6,2325.2 787.6,2328.3 C787.5,2331.4 787.5,2334.4 788.5,2337.5 C789.5,2340.6 792,2343.6 793.3,2346.7 C794.6,2349.8 795.2,2352.8 796.1,2355.8 C797,2358.9 797.5,2361.9 798.6,2365 C799.7,2368.1 801,2371.1 802.5,2374.2 C804,2377.2 806.3,2380.2 807.5,2383.3 C808.7,2386.4 809.9,2389.4 809.8,2392.5 C809.7,2395.6 808.5,2398.6 807.1,2401.7 C805.6,2404.8 803.3,2407.8 801.1,2410.8 C798.9,2413.9 795.3,2418 793.8,2420 C792.3,2422 792.3,2422.2 792,2422.7 L742.6,2422.7 C742.3,2422.2 742.3,2422 740.8,2420 C739.3,2418 735.7,2413.9 733.5,2410.8 C731.3,2407.8 729,2404.8 727.5,2401.7 C726,2398.6 724.9,2395.6 724.8,2392.5 C724.7,2389.4 725.9,2386.4 727.1,2383.3 C728.3,2380.2 730.6,2377.2 732.1,2374.2 C733.6,2371.1 734.9,2368.1 736,2365 C737.1,2361.9 737.6,2358.9 738.5,2355.8 C739.4,2352.8 740,2349.8 741.3,2346.7 C742.6,2343.6 745.1,2340.6 746.1,2337.5 C747,2334.4 747,2331.4 747,2328.3 C747,2325.2 746.1,2321.8 745.8,2319.2 C745.5,2316.6 744.9,2315.5 745.1,2312.9 C745.3,2310.3 746.4,2306.8 747.2,2303.7 C748,2300.6 749.2,2297.6 750,2294.6 C750.8,2291.6 751.5,2288.5 752,2285.4 C752.5,2282.3 752.1,2279.2 752.7,2276.2 C753.3,2273.1 754.1,2270.1 755.5,2267.1 C756.9,2264.1 759.3,2261 761,2257.9 C762.7,2254.8 764.8,2251.8 765.6,2248.7 C766.4,2245.6 765.7,2243.4 765.8,2239.6 C765.9,2235.8 766.3,2230.4 766.3,2225.8 C766.3,2221.2 766,2215.9 765.8,2212.1 C765.6,2208.3 765.3,2205.4 765.1,2202.9 C764.9,2200.4 764.4,2198.7 764.4,2197 C764.4,2195.3 764.7,2193.5 764.8,2192.8 Z" fill="#ff1a36" stroke="#6e1420" stroke-width="1.7" stroke-linejoin="round"/>
<line x1="747.1" y1="2317.3" x2="787.5" y2="2317.3" stroke="#6e1420" stroke-width="1.1" stroke-dasharray="3 2.5" opacity="0.45"/>
<line x1="735.5" y1="2369.6" x2="799" y2="2369.6" stroke="#6e1420" stroke-width="1.6" stroke-dasharray="3.5 2.5" opacity="0.9"/>
<line x1="731.2" y1="2405" x2="803.4" y2="2405" stroke="#6e1420" stroke-width="1.1" stroke-dasharray="3 2.5" opacity="0.45"/>
</g>
</svg>
</body></html>
